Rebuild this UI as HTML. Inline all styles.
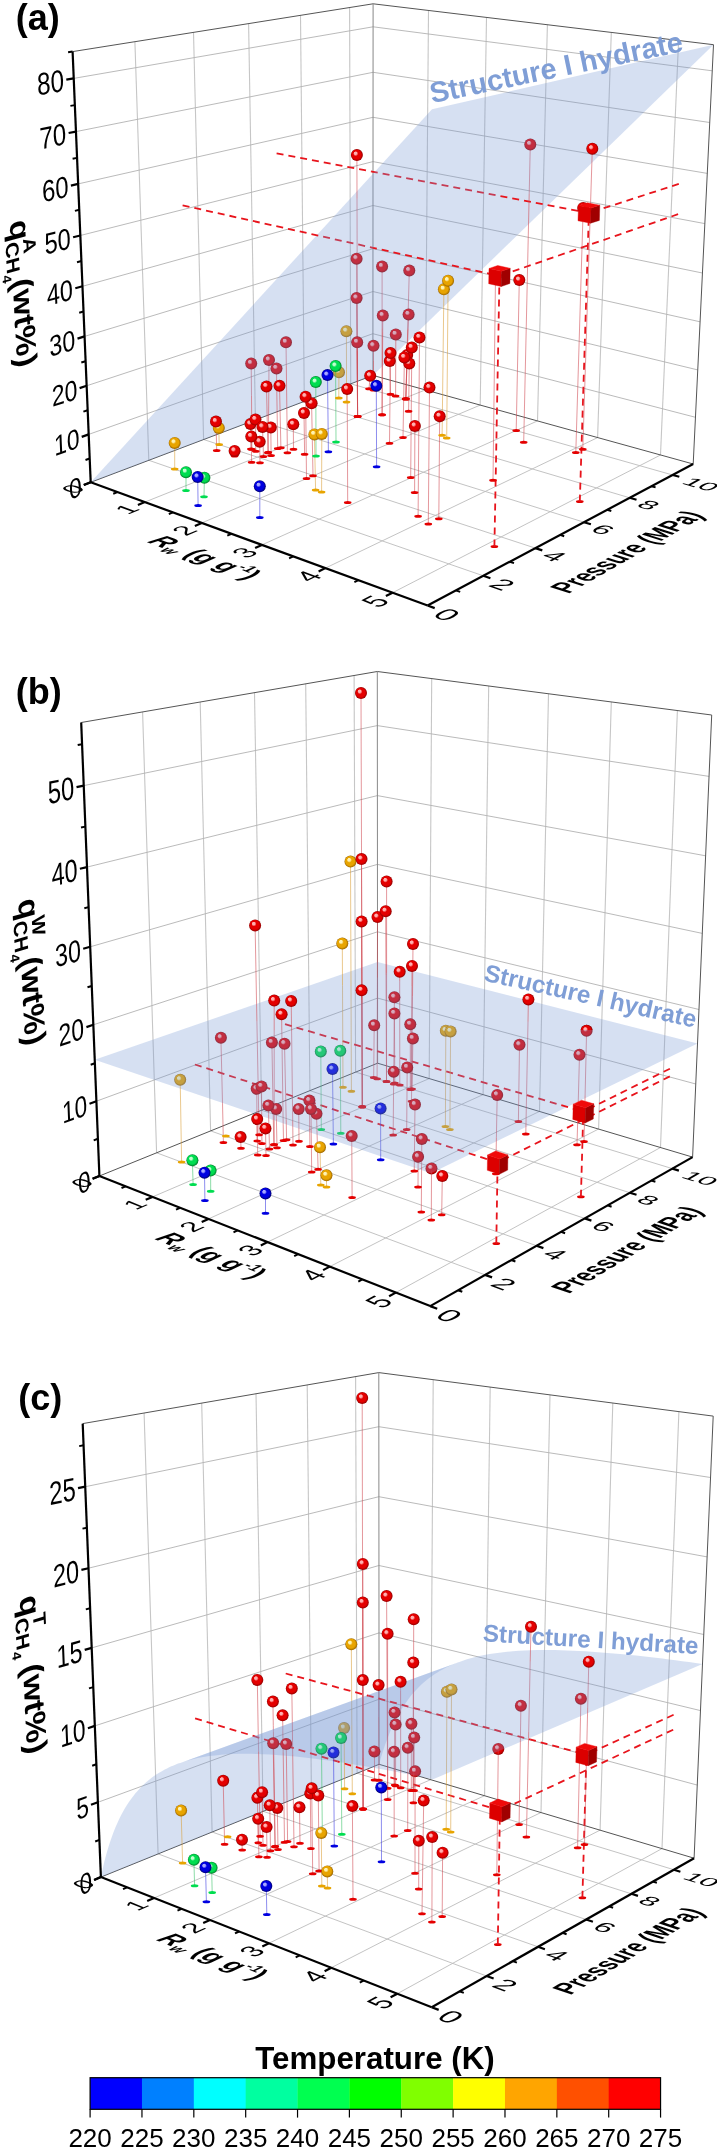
<!DOCTYPE html>
<html><head><meta charset="utf-8"><style>
html,body{margin:0;padding:0;background:#fff;}
body{width:717px;height:2150px;position:relative;overflow:hidden;font-family:"Liberation Sans",sans-serif;}
svg{will-change:transform;}
</style></head><body>
<svg width="717" height="2150" viewBox="0 0 717 2150" style="position:absolute;left:0;top:0" font-family="Liberation Sans, sans-serif">
<defs>
<radialGradient id="gR" cx="0.5" cy="0.5" r="0.5" fx="0.34" fy="0.3" gradientUnits="objectBoundingBox"><stop offset="0" stop-color="#ffb0b0"/><stop offset="0.22" stop-color="#ffb0b0" stop-opacity="1"/><stop offset="0.42" stop-color="#e40000"/><stop offset="0.75" stop-color="#e40000"/><stop offset="1" stop-color="#900000"/></radialGradient>
<radialGradient id="gY" cx="0.5" cy="0.5" r="0.5" fx="0.34" fy="0.3" gradientUnits="objectBoundingBox"><stop offset="0" stop-color="#fff2b0"/><stop offset="0.22" stop-color="#fff2b0" stop-opacity="1"/><stop offset="0.42" stop-color="#e8a400"/><stop offset="0.75" stop-color="#e8a400"/><stop offset="1" stop-color="#9a6400"/></radialGradient>
<radialGradient id="gG" cx="0.5" cy="0.5" r="0.5" fx="0.34" fy="0.3" gradientUnits="objectBoundingBox"><stop offset="0" stop-color="#c0ffd0"/><stop offset="0.22" stop-color="#c0ffd0" stop-opacity="1"/><stop offset="0.42" stop-color="#00dd50"/><stop offset="0.75" stop-color="#00dd50"/><stop offset="1" stop-color="#007a28"/></radialGradient>
<radialGradient id="gB" cx="0.5" cy="0.5" r="0.5" fx="0.34" fy="0.3" gradientUnits="objectBoundingBox"><stop offset="0" stop-color="#a8a8ff"/><stop offset="0.22" stop-color="#a8a8ff" stop-opacity="1"/><stop offset="0.42" stop-color="#0000e0"/><stop offset="0.75" stop-color="#0000e0"/><stop offset="1" stop-color="#00006a"/></radialGradient>
</defs>
<rect width="717" height="2150" fill="#fff"/>
<line x1="148.8" y1="460.3" x2="134.9" y2="41.7" stroke="#c6c6c6" stroke-width="1.1" />
<line x1="203.6" y1="439.5" x2="193.5" y2="32.3" stroke="#c6c6c6" stroke-width="1.1" />
<line x1="255.4" y1="419.9" x2="248.6" y2="23.6" stroke="#c6c6c6" stroke-width="1.1" />
<line x1="304.3" y1="401.4" x2="300.5" y2="15.3" stroke="#c6c6c6" stroke-width="1.1" />
<line x1="350.7" y1="383.8" x2="349.6" y2="7.5" stroke="#c6c6c6" stroke-width="1.1" />
<line x1="88.7" y1="434.4" x2="372.9" y2="333.7" stroke="#b2b2b2" stroke-width="0.9" />
<line x1="86.6" y1="385.8" x2="373.0" y2="291.5" stroke="#b2b2b2" stroke-width="0.9" />
<line x1="84.6" y1="336.4" x2="373.0" y2="248.7" stroke="#b2b2b2" stroke-width="0.9" />
<line x1="82.5" y1="286.3" x2="373.0" y2="205.5" stroke="#b2b2b2" stroke-width="0.9" />
<line x1="80.3" y1="235.5" x2="373.0" y2="161.6" stroke="#b2b2b2" stroke-width="0.9" />
<line x1="78.2" y1="183.9" x2="373.0" y2="117.3" stroke="#b2b2b2" stroke-width="0.9" />
<line x1="76.0" y1="131.6" x2="373.1" y2="72.3" stroke="#b2b2b2" stroke-width="0.9" />
<line x1="73.7" y1="78.4" x2="373.1" y2="26.8" stroke="#b2b2b2" stroke-width="0.9" />
<line x1="425.4" y1="389.9" x2="428.5" y2="10.5" stroke="#c6c6c6" stroke-width="1.1" />
<line x1="480.2" y1="405.1" x2="486.5" y2="17.4" stroke="#c6c6c6" stroke-width="1.1" />
<line x1="537.5" y1="420.9" x2="547.4" y2="24.7" stroke="#c6c6c6" stroke-width="1.1" />
<line x1="597.6" y1="437.6" x2="611.3" y2="32.4" stroke="#c6c6c6" stroke-width="1.1" />
<line x1="660.5" y1="455.0" x2="678.6" y2="40.5" stroke="#c6c6c6" stroke-width="1.1" />
<line x1="372.9" y1="333.7" x2="695.5" y2="417.3" stroke="#b2b2b2" stroke-width="0.9" />
<line x1="373.0" y1="291.5" x2="697.7" y2="369.9" stroke="#b2b2b2" stroke-width="0.9" />
<line x1="373.0" y1="248.7" x2="700.1" y2="321.8" stroke="#b2b2b2" stroke-width="0.9" />
<line x1="373.0" y1="205.5" x2="702.4" y2="273.0" stroke="#b2b2b2" stroke-width="0.9" />
<line x1="373.0" y1="161.6" x2="704.8" y2="223.6" stroke="#b2b2b2" stroke-width="0.9" />
<line x1="373.0" y1="117.3" x2="707.3" y2="173.4" stroke="#b2b2b2" stroke-width="0.9" />
<line x1="373.1" y1="72.3" x2="709.7" y2="122.5" stroke="#b2b2b2" stroke-width="0.9" />
<line x1="373.1" y1="26.8" x2="712.2" y2="70.8" stroke="#b2b2b2" stroke-width="0.9" />
<line x1="144.8" y1="502.1" x2="425.4" y2="389.9" stroke="#bcbcbc" stroke-width="0.9" />
<line x1="201.8" y1="522.9" x2="480.2" y2="405.1" stroke="#bcbcbc" stroke-width="0.9" />
<line x1="261.9" y1="544.9" x2="537.5" y2="420.9" stroke="#bcbcbc" stroke-width="0.9" />
<line x1="325.4" y1="568.1" x2="597.6" y2="437.6" stroke="#bcbcbc" stroke-width="0.9" />
<line x1="392.6" y1="592.7" x2="660.5" y2="455.0" stroke="#bcbcbc" stroke-width="0.9" />
<line x1="148.8" y1="460.3" x2="483.3" y2="575.8" stroke="#bcbcbc" stroke-width="0.9" />
<line x1="203.6" y1="439.5" x2="535.3" y2="548.1" stroke="#bcbcbc" stroke-width="0.9" />
<line x1="255.4" y1="419.9" x2="584.0" y2="522.2" stroke="#bcbcbc" stroke-width="0.9" />
<line x1="304.3" y1="401.4" x2="629.7" y2="497.8" stroke="#bcbcbc" stroke-width="0.9" />
<line x1="350.7" y1="383.8" x2="672.7" y2="475.0" stroke="#bcbcbc" stroke-width="0.9" />
<line x1="72.6" y1="51.6" x2="373.1" y2="3.8" stroke="#555" stroke-width="1" />
<line x1="373.1" y1="3.8" x2="713.5" y2="44.7" stroke="#555" stroke-width="1" />
<line x1="372.9" y1="375.4" x2="373.1" y2="3.8" stroke="#888" stroke-width="1" />
<line x1="693.2" y1="464.0" x2="713.5" y2="44.7" stroke="#555" stroke-width="1" />
<line x1="90.7" y1="482.3" x2="372.9" y2="375.4" stroke="#555" stroke-width="1" />
<line x1="372.9" y1="375.4" x2="693.2" y2="464.0" stroke="#555" stroke-width="1" />
<line x1="371.9" y1="171.6" x2="497.5" y2="195.6" stroke="#e8141c" stroke-width="1.8" stroke-dasharray="7,5" stroke-dashoffset="97.1"/>
<line x1="319.8" y1="235.9" x2="373.1" y2="247.8" stroke="#e8141c" stroke-width="1.8" stroke-dasharray="7,5" stroke-dashoffset="140.6"/>
<line x1="286.3" y1="365.3" x2="286.0" y2="342.3" stroke="#cd414b" stroke-width="1" stroke-opacity="0.55"/>
<line x1="251.5" y1="395.6" x2="251.2" y2="363.5" stroke="#cd414b" stroke-width="1" stroke-opacity="0.55"/>
<line x1="268.9" y1="379.2" x2="269.0" y2="360.0" stroke="#cd414b" stroke-width="1" stroke-opacity="0.55"/>
<line x1="276.6" y1="378.4" x2="276.5" y2="368.4" stroke="#cd414b" stroke-width="1" stroke-opacity="0.55"/>
<line x1="346.5" y1="369.5" x2="346.4" y2="331.2" stroke="#d89a30" stroke-width="1" stroke-opacity="0.55"/>
<line x1="357.4" y1="351.1" x2="357.0" y2="198.7" stroke="#cd414b" stroke-width="1" stroke-opacity="0.55"/>
<line x1="357.2" y1="350.8" x2="356.6" y2="258.7" stroke="#cd414b" stroke-width="1" stroke-opacity="0.55"/>
<line x1="357.0" y1="347.4" x2="356.6" y2="298.0" stroke="#cd414b" stroke-width="1" stroke-opacity="0.55"/>
<line x1="357.2" y1="348.5" x2="357.2" y2="342.3" stroke="#cd414b" stroke-width="1" stroke-opacity="0.55"/>
<line x1="373.5" y1="360.5" x2="373.5" y2="345.8" stroke="#cd414b" stroke-width="1" stroke-opacity="0.55"/>
<line x1="395.8" y1="339.5" x2="395.8" y2="334.4" stroke="#cd414b" stroke-width="1" stroke-opacity="0.55"/>
<line x1="338.9" y1="378.8" x2="339.0" y2="372.3" stroke="#d89a30" stroke-width="1" stroke-opacity="0.55"/>
<line x1="382.1" y1="328.3" x2="382.1" y2="266.5" stroke="#cd414b" stroke-width="1" stroke-opacity="0.55"/>
<line x1="382.7" y1="332.1" x2="382.8" y2="315.6" stroke="#cd414b" stroke-width="1" stroke-opacity="0.55"/>
<line x1="407.7" y1="329.5" x2="409.3" y2="270.6" stroke="#cd414b" stroke-width="1" stroke-opacity="0.55"/>
<line x1="408.1" y1="328.5" x2="408.6" y2="314.4" stroke="#cd414b" stroke-width="1" stroke-opacity="0.55"/>
<line x1="529.2" y1="194.1" x2="530.3" y2="144.5" stroke="#cd414b" stroke-width="1" stroke-opacity="0.55"/>
<circle cx="373.5" cy="345.8" r="6.0" fill="url(#gR)"/>
<circle cx="339.0" cy="372.3" r="6.0" fill="url(#gY)"/>
<circle cx="395.8" cy="334.4" r="6.0" fill="url(#gR)"/>
<circle cx="408.6" cy="314.4" r="6.0" fill="url(#gR)"/>
<circle cx="346.4" cy="331.2" r="6.0" fill="url(#gY)"/>
<circle cx="409.3" cy="270.6" r="6.0" fill="url(#gR)"/>
<circle cx="357.2" cy="342.3" r="6.0" fill="url(#gR)"/>
<circle cx="382.8" cy="315.6" r="6.0" fill="url(#gR)"/>
<circle cx="356.6" cy="298.0" r="6.0" fill="url(#gR)"/>
<circle cx="382.1" cy="266.5" r="6.0" fill="url(#gR)"/>
<circle cx="356.6" cy="258.7" r="6.0" fill="url(#gR)"/>
<circle cx="276.5" cy="368.4" r="6.0" fill="url(#gR)"/>
<circle cx="251.2" cy="363.5" r="6.0" fill="url(#gR)"/>
<circle cx="269.0" cy="360.0" r="6.0" fill="url(#gR)"/>
<circle cx="286.0" cy="342.3" r="6.0" fill="url(#gR)"/>
<circle cx="530.3" cy="144.5" r="6.0" fill="url(#gR)"/>
<polygon points="90.7,482.3 432.0,109.3 713.5,44.7 372.9,375.4" fill="rgb(119,152,212)" fill-opacity="0.3"/>
<text transform="matrix(0.9792,-0.2028,0.2028,0.9792,431.91,103.35)" font-size="29" font-weight="bold" fill="#7f9ed6" >Structure I hydrate</text>
<ellipse cx="579.8" cy="501.6" rx="3.8" ry="1.5" fill="#e00000"/>
<line x1="579.8" y1="501.6" x2="588.9" y2="213.0" stroke="#e8141c" stroke-width="1.8" stroke-dasharray="7,5" stroke-dashoffset="0.0"/>
<line x1="678.8" y1="183.9" x2="588.9" y2="213.0" stroke="#e8141c" stroke-width="1.8" stroke-dasharray="7,5" stroke-dashoffset="0.0"/>
<line x1="497.5" y1="195.6" x2="588.9" y2="213.0" stroke="#e8141c" stroke-width="1.8" stroke-dasharray="7,5" stroke-dashoffset="225.0"/>
<line x1="276.6" y1="153.4" x2="371.9" y2="171.6" stroke="#e8141c" stroke-width="1.8" stroke-dasharray="7,5" stroke-dashoffset="0.0"/>
<ellipse cx="494.4" cy="546.4" rx="3.8" ry="1.5" fill="#e00000"/>
<line x1="494.4" y1="546.4" x2="499.5" y2="276.0" stroke="#e8141c" stroke-width="1.8" stroke-dasharray="7,5" stroke-dashoffset="0.0"/>
<line x1="678.1" y1="214.2" x2="499.5" y2="276.0" stroke="#e8141c" stroke-width="1.8" stroke-dasharray="7,5" stroke-dashoffset="0.0"/>
<line x1="373.1" y1="247.8" x2="499.5" y2="276.0" stroke="#e8141c" stroke-width="1.8" stroke-dasharray="7,5" stroke-dashoffset="195.2"/>
<line x1="182.6" y1="205.3" x2="319.8" y2="235.9" stroke="#e8141c" stroke-width="1.8" stroke-dasharray="7,5" stroke-dashoffset="0.0"/>
<line x1="174.7" y1="469.0" x2="174.7" y2="442.9" stroke="#d89a30" stroke-width="1" stroke-opacity="0.55"/>
<line x1="186.0" y1="490.4" x2="186.0" y2="472.2" stroke="#30c060" stroke-width="1" stroke-opacity="0.55"/>
<line x1="204.0" y1="496.7" x2="204.4" y2="477.8" stroke="#30c060" stroke-width="1" stroke-opacity="0.55"/>
<line x1="198.1" y1="505.6" x2="197.7" y2="477.0" stroke="#3030e0" stroke-width="1" stroke-opacity="0.55"/>
<line x1="259.8" y1="517.6" x2="259.8" y2="486.2" stroke="#3030e0" stroke-width="1" stroke-opacity="0.55"/>
<line x1="219.2" y1="444.4" x2="218.8" y2="427.9" stroke="#d89a30" stroke-width="1" stroke-opacity="0.55"/>
<line x1="216.7" y1="450.5" x2="216.0" y2="421.6" stroke="#cd414b" stroke-width="1" stroke-opacity="0.55"/>
<line x1="234.6" y1="456.0" x2="234.6" y2="450.9" stroke="#cd414b" stroke-width="1" stroke-opacity="0.55"/>
<line x1="250.9" y1="449.1" x2="250.5" y2="424.0" stroke="#cd414b" stroke-width="1" stroke-opacity="0.55"/>
<line x1="255.8" y1="451.3" x2="255.5" y2="419.5" stroke="#cd414b" stroke-width="1" stroke-opacity="0.55"/>
<line x1="263.5" y1="456.5" x2="262.5" y2="426.9" stroke="#cd414b" stroke-width="1" stroke-opacity="0.55"/>
<line x1="271.1" y1="455.5" x2="270.8" y2="427.5" stroke="#cd414b" stroke-width="1" stroke-opacity="0.55"/>
<line x1="251.6" y1="462.3" x2="251.3" y2="436.5" stroke="#cd414b" stroke-width="1" stroke-opacity="0.55"/>
<line x1="260.0" y1="462.8" x2="259.7" y2="441.8" stroke="#cd414b" stroke-width="1" stroke-opacity="0.55"/>
<line x1="293.5" y1="449.3" x2="293.3" y2="424.2" stroke="#cd414b" stroke-width="1" stroke-opacity="0.55"/>
<line x1="287.4" y1="452.7" x2="286.3" y2="365.3" stroke="#cd414b" stroke-width="1" stroke-opacity="0.55"/>
<line x1="251.9" y1="449.2" x2="251.5" y2="395.6" stroke="#cd414b" stroke-width="1" stroke-opacity="0.55"/>
<line x1="268.3" y1="452.3" x2="268.9" y2="379.2" stroke="#cd414b" stroke-width="1" stroke-opacity="0.55"/>
<line x1="277.7" y1="448.5" x2="276.6" y2="378.4" stroke="#cd414b" stroke-width="1" stroke-opacity="0.55"/>
<line x1="267.9" y1="452.7" x2="266.5" y2="386.5" stroke="#cd414b" stroke-width="1" stroke-opacity="0.55"/>
<line x1="280.9" y1="447.8" x2="279.5" y2="385.8" stroke="#cd414b" stroke-width="1" stroke-opacity="0.55"/>
<line x1="306.5" y1="478.4" x2="305.6" y2="396.7" stroke="#cd414b" stroke-width="1" stroke-opacity="0.55"/>
<line x1="313.0" y1="475.8" x2="311.6" y2="403.2" stroke="#cd414b" stroke-width="1" stroke-opacity="0.55"/>
<line x1="304.6" y1="454.2" x2="304.0" y2="413.0" stroke="#cd414b" stroke-width="1" stroke-opacity="0.55"/>
<line x1="346.5" y1="401.9" x2="346.5" y2="369.5" stroke="#d89a30" stroke-width="1" stroke-opacity="0.55"/>
<line x1="357.6" y1="416.5" x2="357.4" y2="351.1" stroke="#cd414b" stroke-width="1" stroke-opacity="0.55"/>
<line x1="357.0" y1="198.7" x2="356.9" y2="155.1" stroke="#cd414b" stroke-width="1" stroke-opacity="0.55"/>
<line x1="357.6" y1="416.5" x2="357.2" y2="350.8" stroke="#cd414b" stroke-width="1" stroke-opacity="0.55"/>
<line x1="357.6" y1="416.5" x2="357.0" y2="347.4" stroke="#cd414b" stroke-width="1" stroke-opacity="0.55"/>
<line x1="357.6" y1="416.5" x2="357.2" y2="348.5" stroke="#cd414b" stroke-width="1" stroke-opacity="0.55"/>
<line x1="373.5" y1="390.0" x2="373.5" y2="360.5" stroke="#cd414b" stroke-width="1" stroke-opacity="0.55"/>
<line x1="395.6" y1="396.0" x2="395.8" y2="339.5" stroke="#cd414b" stroke-width="1" stroke-opacity="0.55"/>
<line x1="389.5" y1="443.3" x2="390.5" y2="353.1" stroke="#cd414b" stroke-width="1" stroke-opacity="0.55"/>
<line x1="390.5" y1="394.2" x2="389.8" y2="361.1" stroke="#cd414b" stroke-width="1" stroke-opacity="0.55"/>
<line x1="403.0" y1="437.4" x2="404.4" y2="357.4" stroke="#cd414b" stroke-width="1" stroke-opacity="0.55"/>
<line x1="405.9" y1="398.6" x2="407.2" y2="354.9" stroke="#cd414b" stroke-width="1" stroke-opacity="0.55"/>
<line x1="410.7" y1="477.5" x2="411.8" y2="347.5" stroke="#cd414b" stroke-width="1" stroke-opacity="0.55"/>
<line x1="408.6" y1="411.2" x2="409.3" y2="363.5" stroke="#cd414b" stroke-width="1" stroke-opacity="0.55"/>
<line x1="418.1" y1="516.2" x2="419.5" y2="337.4" stroke="#cd414b" stroke-width="1" stroke-opacity="0.55"/>
<line x1="428.3" y1="523.9" x2="429.5" y2="387.6" stroke="#cd414b" stroke-width="1" stroke-opacity="0.55"/>
<line x1="438.8" y1="518.8" x2="439.7" y2="416.2" stroke="#cd414b" stroke-width="1" stroke-opacity="0.55"/>
<line x1="414.6" y1="492.5" x2="414.9" y2="426.0" stroke="#cd414b" stroke-width="1" stroke-opacity="0.55"/>
<line x1="369.0" y1="388.8" x2="370.2" y2="375.8" stroke="#cd414b" stroke-width="1" stroke-opacity="0.55"/>
<line x1="347.7" y1="502.5" x2="347.2" y2="389.0" stroke="#cd414b" stroke-width="1" stroke-opacity="0.55"/>
<line x1="336.0" y1="442.0" x2="335.6" y2="366.0" stroke="#30c060" stroke-width="1" stroke-opacity="0.55"/>
<line x1="338.8" y1="398.1" x2="338.9" y2="378.8" stroke="#d89a30" stroke-width="1" stroke-opacity="0.55"/>
<line x1="328.4" y1="451.8" x2="327.5" y2="375.1" stroke="#3030e0" stroke-width="1" stroke-opacity="0.55"/>
<line x1="316.0" y1="456.0" x2="315.8" y2="382.1" stroke="#30c060" stroke-width="1" stroke-opacity="0.55"/>
<line x1="376.6" y1="466.7" x2="376.3" y2="385.8" stroke="#3030e0" stroke-width="1" stroke-opacity="0.55"/>
<line x1="315.6" y1="490.0" x2="314.4" y2="434.4" stroke="#d89a30" stroke-width="1" stroke-opacity="0.55"/>
<line x1="321.6" y1="492.0" x2="321.8" y2="433.9" stroke="#d89a30" stroke-width="1" stroke-opacity="0.55"/>
<line x1="382.1" y1="414.8" x2="382.1" y2="328.3" stroke="#cd414b" stroke-width="1" stroke-opacity="0.55"/>
<line x1="382.1" y1="414.8" x2="382.7" y2="332.1" stroke="#cd414b" stroke-width="1" stroke-opacity="0.55"/>
<line x1="405.8" y1="399.0" x2="407.7" y2="329.5" stroke="#cd414b" stroke-width="1" stroke-opacity="0.55"/>
<line x1="405.8" y1="399.0" x2="408.1" y2="328.5" stroke="#cd414b" stroke-width="1" stroke-opacity="0.55"/>
<line x1="446.7" y1="438.1" x2="448.1" y2="280.7" stroke="#d89a30" stroke-width="1" stroke-opacity="0.55"/>
<line x1="442.1" y1="435.3" x2="443.9" y2="289.3" stroke="#d89a30" stroke-width="1" stroke-opacity="0.55"/>
<line x1="523.7" y1="442.3" x2="529.2" y2="194.1" stroke="#cd414b" stroke-width="1" stroke-opacity="0.55"/>
<line x1="582.8" y1="449.3" x2="592.3" y2="148.8" stroke="#cd414b" stroke-width="1" stroke-opacity="0.55"/>
<line x1="575.8" y1="452.4" x2="583.2" y2="208.1" stroke="#cd414b" stroke-width="1" stroke-opacity="0.55"/>
<line x1="516.2" y1="430.6" x2="519.3" y2="280.1" stroke="#cd414b" stroke-width="1" stroke-opacity="0.55"/>
<line x1="493.0" y1="480.3" x2="495.5" y2="276.5" stroke="#cd414b" stroke-width="1" stroke-opacity="0.55"/>
<ellipse cx="174.7" cy="469.0" rx="3.8" ry="1.5" fill="#e8a400"/>
<ellipse cx="186.0" cy="490.4" rx="3.8" ry="1.5" fill="#00dd50"/>
<ellipse cx="204.0" cy="496.7" rx="3.8" ry="1.5" fill="#00dd50"/>
<ellipse cx="198.1" cy="505.6" rx="3.8" ry="1.5" fill="#0000e0"/>
<ellipse cx="259.8" cy="517.6" rx="3.8" ry="1.5" fill="#0000e0"/>
<ellipse cx="219.2" cy="444.4" rx="3.8" ry="1.5" fill="#e8a400"/>
<ellipse cx="216.7" cy="450.5" rx="3.8" ry="1.5" fill="#e40000"/>
<ellipse cx="234.6" cy="456.0" rx="3.8" ry="1.5" fill="#e40000"/>
<ellipse cx="250.9" cy="449.1" rx="3.8" ry="1.5" fill="#e40000"/>
<ellipse cx="255.8" cy="451.3" rx="3.8" ry="1.5" fill="#e40000"/>
<ellipse cx="263.5" cy="456.5" rx="3.8" ry="1.5" fill="#e40000"/>
<ellipse cx="271.1" cy="455.5" rx="3.8" ry="1.5" fill="#e40000"/>
<ellipse cx="251.6" cy="462.3" rx="3.8" ry="1.5" fill="#e40000"/>
<ellipse cx="260.0" cy="462.8" rx="3.8" ry="1.5" fill="#e40000"/>
<ellipse cx="293.5" cy="449.3" rx="3.8" ry="1.5" fill="#e40000"/>
<ellipse cx="287.4" cy="452.7" rx="3.8" ry="1.5" fill="#e40000"/>
<ellipse cx="251.9" cy="449.2" rx="3.8" ry="1.5" fill="#e40000"/>
<ellipse cx="268.3" cy="452.3" rx="3.8" ry="1.5" fill="#e40000"/>
<ellipse cx="277.7" cy="448.5" rx="3.8" ry="1.5" fill="#e40000"/>
<ellipse cx="267.9" cy="452.7" rx="3.8" ry="1.5" fill="#e40000"/>
<ellipse cx="280.9" cy="447.8" rx="3.8" ry="1.5" fill="#e40000"/>
<ellipse cx="306.5" cy="478.4" rx="3.8" ry="1.5" fill="#e40000"/>
<ellipse cx="313.0" cy="475.8" rx="3.8" ry="1.5" fill="#e40000"/>
<ellipse cx="304.6" cy="454.2" rx="3.8" ry="1.5" fill="#e40000"/>
<ellipse cx="346.5" cy="401.9" rx="3.8" ry="1.5" fill="#e8a400"/>
<ellipse cx="357.6" cy="416.5" rx="3.8" ry="1.5" fill="#e40000"/>
<ellipse cx="357.6" cy="416.5" rx="3.8" ry="1.5" fill="#e40000"/>
<ellipse cx="357.6" cy="416.5" rx="3.8" ry="1.5" fill="#e40000"/>
<ellipse cx="357.6" cy="416.5" rx="3.8" ry="1.5" fill="#e40000"/>
<ellipse cx="373.5" cy="390.0" rx="3.8" ry="1.5" fill="#e40000"/>
<ellipse cx="395.6" cy="396.0" rx="3.8" ry="1.5" fill="#e40000"/>
<ellipse cx="389.5" cy="443.3" rx="3.8" ry="1.5" fill="#e40000"/>
<ellipse cx="390.5" cy="394.2" rx="3.8" ry="1.5" fill="#e40000"/>
<ellipse cx="403.0" cy="437.4" rx="3.8" ry="1.5" fill="#e40000"/>
<ellipse cx="405.9" cy="398.6" rx="3.8" ry="1.5" fill="#e40000"/>
<ellipse cx="410.7" cy="477.5" rx="3.8" ry="1.5" fill="#e40000"/>
<ellipse cx="408.6" cy="411.2" rx="3.8" ry="1.5" fill="#e40000"/>
<ellipse cx="418.1" cy="516.2" rx="3.8" ry="1.5" fill="#e40000"/>
<ellipse cx="428.3" cy="523.9" rx="3.8" ry="1.5" fill="#e40000"/>
<ellipse cx="438.8" cy="518.8" rx="3.8" ry="1.5" fill="#e40000"/>
<ellipse cx="414.6" cy="492.5" rx="3.8" ry="1.5" fill="#e40000"/>
<ellipse cx="369.0" cy="388.8" rx="3.8" ry="1.5" fill="#e40000"/>
<ellipse cx="347.7" cy="502.5" rx="3.8" ry="1.5" fill="#e40000"/>
<ellipse cx="336.0" cy="442.0" rx="3.8" ry="1.5" fill="#00dd50"/>
<ellipse cx="338.8" cy="398.1" rx="3.8" ry="1.5" fill="#e8a400"/>
<ellipse cx="328.4" cy="451.8" rx="3.8" ry="1.5" fill="#0000e0"/>
<ellipse cx="316.0" cy="456.0" rx="3.8" ry="1.5" fill="#00dd50"/>
<ellipse cx="376.6" cy="466.7" rx="3.8" ry="1.5" fill="#0000e0"/>
<ellipse cx="315.6" cy="490.0" rx="3.8" ry="1.5" fill="#e8a400"/>
<ellipse cx="321.6" cy="492.0" rx="3.8" ry="1.5" fill="#e8a400"/>
<ellipse cx="382.1" cy="414.8" rx="3.8" ry="1.5" fill="#e40000"/>
<ellipse cx="382.1" cy="414.8" rx="3.8" ry="1.5" fill="#e40000"/>
<ellipse cx="405.8" cy="399.0" rx="3.8" ry="1.5" fill="#e40000"/>
<ellipse cx="405.8" cy="399.0" rx="3.8" ry="1.5" fill="#e40000"/>
<ellipse cx="446.7" cy="438.1" rx="3.8" ry="1.5" fill="#e8a400"/>
<ellipse cx="442.1" cy="435.3" rx="3.8" ry="1.5" fill="#e8a400"/>
<ellipse cx="523.7" cy="442.3" rx="3.8" ry="1.5" fill="#e40000"/>
<ellipse cx="582.8" cy="449.3" rx="3.8" ry="1.5" fill="#e40000"/>
<ellipse cx="575.8" cy="452.4" rx="3.8" ry="1.5" fill="#e40000"/>
<ellipse cx="516.2" cy="430.6" rx="3.8" ry="1.5" fill="#e40000"/>
<ellipse cx="493.0" cy="480.3" rx="3.8" ry="1.5" fill="#e40000"/>
<circle cx="370.2" cy="375.8" r="6.0" fill="url(#gR)"/>
<circle cx="389.8" cy="361.1" r="6.0" fill="url(#gR)"/>
<circle cx="407.2" cy="354.9" r="6.0" fill="url(#gR)"/>
<circle cx="409.3" cy="363.5" r="6.0" fill="url(#gR)"/>
<circle cx="356.9" cy="155.1" r="6.0" fill="url(#gR)"/>
<circle cx="404.4" cy="357.4" r="6.0" fill="url(#gR)"/>
<circle cx="519.3" cy="280.1" r="6.0" fill="url(#gR)"/>
<circle cx="218.8" cy="427.9" r="6.0" fill="url(#gY)"/>
<circle cx="335.6" cy="366.0" r="6.0" fill="url(#gG)"/>
<circle cx="443.9" cy="289.3" r="6.0" fill="url(#gY)"/>
<circle cx="250.5" cy="424.0" r="6.0" fill="url(#gR)"/>
<circle cx="293.3" cy="424.2" r="6.0" fill="url(#gR)"/>
<circle cx="390.5" cy="353.1" r="6.0" fill="url(#gR)"/>
<circle cx="216.0" cy="421.6" r="6.0" fill="url(#gR)"/>
<circle cx="448.1" cy="280.7" r="6.0" fill="url(#gY)"/>
<circle cx="279.5" cy="385.8" r="6.0" fill="url(#gR)"/>
<circle cx="255.5" cy="419.5" r="6.0" fill="url(#gR)"/>
<circle cx="234.6" cy="450.9" r="6.0" fill="url(#gR)"/>
<circle cx="304.0" cy="413.0" r="6.0" fill="url(#gR)"/>
<circle cx="270.8" cy="427.5" r="6.0" fill="url(#gR)"/>
<circle cx="262.5" cy="426.9" r="6.0" fill="url(#gR)"/>
<circle cx="327.5" cy="375.1" r="6.0" fill="url(#gB)"/>
<circle cx="266.5" cy="386.5" r="6.0" fill="url(#gR)"/>
<circle cx="315.8" cy="382.1" r="6.0" fill="url(#gG)"/>
<circle cx="259.7" cy="441.8" r="6.0" fill="url(#gR)"/>
<circle cx="251.3" cy="436.5" r="6.0" fill="url(#gR)"/>
<circle cx="174.7" cy="442.9" r="6.0" fill="url(#gY)"/>
<circle cx="376.3" cy="385.8" r="6.0" fill="url(#gB)"/>
<circle cx="583.2" cy="208.1" r="6.0" fill="url(#gR)"/>
<circle cx="592.3" cy="148.8" r="6.0" fill="url(#gR)"/>
<circle cx="311.6" cy="403.2" r="6.0" fill="url(#gR)"/>
<circle cx="305.6" cy="396.7" r="6.0" fill="url(#gR)"/>
<circle cx="411.8" cy="347.5" r="6.0" fill="url(#gR)"/>
<circle cx="186.0" cy="472.2" r="6.0" fill="url(#gG)"/>
<circle cx="314.4" cy="434.4" r="6.0" fill="url(#gY)"/>
<circle cx="321.8" cy="433.9" r="6.0" fill="url(#gY)"/>
<circle cx="204.4" cy="477.8" r="6.0" fill="url(#gG)"/>
<circle cx="414.9" cy="426.0" r="6.0" fill="url(#gR)"/>
<circle cx="495.5" cy="276.5" r="6.0" fill="url(#gR)"/>
<circle cx="197.7" cy="477.0" r="6.0" fill="url(#gB)"/>
<circle cx="347.2" cy="389.0" r="6.0" fill="url(#gR)"/>
<circle cx="259.8" cy="486.2" r="6.0" fill="url(#gB)"/>
<circle cx="439.7" cy="416.2" r="6.0" fill="url(#gR)"/>
<circle cx="419.5" cy="337.4" r="6.0" fill="url(#gR)"/>
<circle cx="429.5" cy="387.6" r="6.0" fill="url(#gR)"/>
<polygon points="488.7,283.7 501.2,286.5 501.5,271.3 489.0,268.5" fill="#dc0000" stroke="#dc0000" stroke-width="0.4" stroke-linejoin="round"/><polygon points="501.2,286.5 509.9,283.5 510.2,268.3 501.5,271.3" fill="#a00000" stroke="#a00000" stroke-width="0.4" stroke-linejoin="round"/><polygon points="489.0,268.5 501.5,271.3 510.2,268.3 497.7,265.5" fill="#f00a0a" stroke="#f00a0a" stroke-width="0.4" stroke-linejoin="round"/>
<polygon points="578.0,220.8 590.6,223.2 591.1,208.0 578.5,205.6" fill="#dc0000" stroke="#dc0000" stroke-width="0.4" stroke-linejoin="round"/><polygon points="590.6,223.2 599.4,220.4 599.8,205.2 591.1,208.0" fill="#a00000" stroke="#a00000" stroke-width="0.4" stroke-linejoin="round"/><polygon points="578.5,205.6 591.1,208.0 599.8,205.2 587.3,202.8" fill="#f00a0a" stroke="#f00a0a" stroke-width="0.4" stroke-linejoin="round"/>
<line x1="90.7" y1="482.3" x2="72.6" y2="51.6" stroke="#000" stroke-width="2.2" />
<line x1="90.7" y1="482.3" x2="427.6" y2="605.5" stroke="#000" stroke-width="2.2" />
<line x1="427.6" y1="605.5" x2="693.2" y2="464.0" stroke="#000" stroke-width="2.2" />
<line x1="90.7" y1="482.3" x2="83.8" y2="485.0" stroke="#000" stroke-width="2.2" />
<line x1="88.7" y1="434.4" x2="81.7" y2="436.9" stroke="#000" stroke-width="2.2" />
<line x1="86.6" y1="385.8" x2="79.6" y2="388.1" stroke="#000" stroke-width="2.2" />
<line x1="84.6" y1="336.4" x2="77.5" y2="338.6" stroke="#000" stroke-width="2.2" />
<line x1="82.5" y1="286.3" x2="75.3" y2="288.3" stroke="#000" stroke-width="2.2" />
<line x1="80.3" y1="235.5" x2="73.1" y2="237.3" stroke="#000" stroke-width="2.2" />
<line x1="78.2" y1="183.9" x2="70.9" y2="185.6" stroke="#000" stroke-width="2.2" />
<line x1="76.0" y1="131.6" x2="68.6" y2="133.0" stroke="#000" stroke-width="2.2" />
<line x1="73.7" y1="78.4" x2="66.3" y2="79.7" stroke="#000" stroke-width="2.2" />
<line x1="89.7" y1="458.5" x2="85.5" y2="460.0" stroke="#000" stroke-width="1.9800000000000002" />
<line x1="87.7" y1="410.2" x2="83.4" y2="411.6" stroke="#000" stroke-width="1.9800000000000002" />
<line x1="85.6" y1="361.2" x2="81.3" y2="362.5" stroke="#000" stroke-width="1.9800000000000002" />
<line x1="83.5" y1="311.5" x2="79.2" y2="312.7" stroke="#000" stroke-width="1.9800000000000002" />
<line x1="81.4" y1="261.0" x2="77.0" y2="262.2" stroke="#000" stroke-width="1.9800000000000002" />
<line x1="79.3" y1="209.8" x2="74.9" y2="210.9" stroke="#000" stroke-width="1.9800000000000002" />
<line x1="77.1" y1="157.9" x2="72.6" y2="158.8" stroke="#000" stroke-width="1.9800000000000002" />
<line x1="74.9" y1="105.1" x2="70.4" y2="105.9" stroke="#000" stroke-width="1.9800000000000002" />
<line x1="72.6" y1="51.6" x2="68.1" y2="52.3" stroke="#000" stroke-width="1.9800000000000002" />
<line x1="90.7" y1="482.3" x2="83.8" y2="485.0" stroke="#000" stroke-width="2.2" />
<line x1="144.8" y1="502.1" x2="137.9" y2="504.9" stroke="#000" stroke-width="2.2" />
<line x1="201.8" y1="522.9" x2="194.9" y2="525.9" stroke="#000" stroke-width="2.2" />
<line x1="261.9" y1="544.9" x2="255.1" y2="548.0" stroke="#000" stroke-width="2.2" />
<line x1="325.4" y1="568.1" x2="318.6" y2="571.4" stroke="#000" stroke-width="2.2" />
<line x1="392.6" y1="592.7" x2="385.9" y2="596.1" stroke="#000" stroke-width="2.2" />
<line x1="117.4" y1="492.1" x2="113.2" y2="493.7" stroke="#000" stroke-width="1.9800000000000002" />
<line x1="172.9" y1="512.4" x2="168.8" y2="514.1" stroke="#000" stroke-width="1.9800000000000002" />
<line x1="231.5" y1="533.8" x2="227.3" y2="535.6" stroke="#000" stroke-width="1.9800000000000002" />
<line x1="293.2" y1="556.4" x2="289.1" y2="558.3" stroke="#000" stroke-width="1.9800000000000002" />
<line x1="358.5" y1="580.2" x2="354.4" y2="582.2" stroke="#000" stroke-width="1.9800000000000002" />
<line x1="427.6" y1="605.5" x2="434.7" y2="608.1" stroke="#000" stroke-width="2.2" />
<line x1="483.3" y1="575.8" x2="490.4" y2="578.2" stroke="#000" stroke-width="2.2" />
<line x1="535.3" y1="548.1" x2="542.3" y2="550.4" stroke="#000" stroke-width="2.2" />
<line x1="584.0" y1="522.2" x2="590.9" y2="524.3" stroke="#000" stroke-width="2.2" />
<line x1="629.7" y1="497.8" x2="636.5" y2="499.8" stroke="#000" stroke-width="2.2" />
<line x1="672.7" y1="475.0" x2="679.3" y2="476.8" stroke="#000" stroke-width="2.2" />
<line x1="455.9" y1="590.4" x2="460.2" y2="591.9" stroke="#000" stroke-width="1.9800000000000002" />
<line x1="509.8" y1="561.7" x2="514.0" y2="563.1" stroke="#000" stroke-width="1.9800000000000002" />
<line x1="560.1" y1="534.9" x2="564.2" y2="536.2" stroke="#000" stroke-width="1.9800000000000002" />
<line x1="607.2" y1="509.8" x2="611.3" y2="511.0" stroke="#000" stroke-width="1.9800000000000002" />
<line x1="651.5" y1="486.2" x2="655.6" y2="487.4" stroke="#000" stroke-width="1.9800000000000002" />
<text transform="matrix(1.1313,-0.4288,0.0601,1.3817,69.42,500.10)" font-size="20" fill="#000" >0</text>
<text transform="matrix(1.1407,-0.4042,0.0610,1.4018,54.45,456.35)" font-size="20" fill="#000" >10</text>
<text transform="matrix(1.1503,-0.3788,0.0619,1.4224,52.13,407.09)" font-size="20" fill="#000" >20</text>
<text transform="matrix(1.1600,-0.3526,0.0628,1.4433,49.77,357.09)" font-size="20" fill="#000" >30</text>
<text transform="matrix(1.1699,-0.3257,0.0637,1.4648,47.37,306.34)" font-size="20" fill="#000" >40</text>
<text transform="matrix(1.1799,-0.2978,0.0647,1.4867,44.94,254.83)" font-size="20" fill="#000" >50</text>
<text transform="matrix(1.1901,-0.2691,0.0657,1.5092,42.47,202.53)" font-size="20" fill="#000" >60</text>
<text transform="matrix(1.2005,-0.2395,0.0667,1.5321,39.96,149.43)" font-size="20" fill="#000" >70</text>
<text transform="matrix(1.2111,-0.2089,0.0677,1.5556,37.42,95.52)" font-size="20" fill="#000" >80</text>
<text transform="matrix(1.2071,-0.4575,1.0449,0.3884,73.62,494.23)" font-size="20" fill="#000" >0</text>
<text transform="matrix(1.2049,-0.4820,1.1002,0.4090,127.81,514.78)" font-size="20" fill="#000" >1</text>
<text transform="matrix(1.2007,-0.5085,1.1601,0.4313,185.78,536.19)" font-size="20" fill="#000" >2</text>
<text transform="matrix(1.1943,-0.5373,1.2250,0.4554,246.47,558.81)" font-size="20" fill="#000" >3</text>
<text transform="matrix(1.1852,-0.5685,1.2955,0.4816,310.63,582.81)" font-size="20" fill="#000" >4</text>
<text transform="matrix(1.1729,-0.6026,1.3723,0.5102,378.32,608.24)" font-size="20" fill="#000" >5</text>
<text transform="matrix(1.4345,0.5255,-1.1399,0.6208,430.95,615.94)" font-size="20" fill="#000" >0</text>
<text transform="matrix(1.4166,0.4902,-1.0627,0.5788,487.06,585.63)" font-size="20" fill="#000" >2</text>
<text transform="matrix(1.3978,0.4584,-0.9931,0.5409,539.78,557.27)" font-size="20" fill="#000" >4</text>
<text transform="matrix(1.3785,0.4296,-0.9302,0.5066,588.73,530.71)" font-size="20" fill="#000" >6</text>
<text transform="matrix(1.3588,0.4035,-0.8730,0.4754,634.88,505.90)" font-size="20" fill="#000" >8</text>
<text transform="matrix(1.3495,0.3826,-0.8178,0.4506,680.36,483.21)" font-size="20" fill="#000" >10</text>
<text transform="matrix(0.0833,1.6502,-1.4238,0.3915,9.80,222.44)" fill="#000" ><tspan x="0.00" y="0.00" font-size="20.00" font-weight="bold">q</tspan><tspan x="12.22" y="-8.60" font-size="12.60" font-weight="bold">A</tspan><tspan x="12.22" y="3.80" font-size="13.00" font-weight="bold">CH</tspan><tspan x="30.99" y="7.00" font-size="8.80" font-weight="bold">4</tspan><tspan x="35.48" y="0.00" font-size="20.00" font-weight="bold">(wt%)</tspan></text>
<text transform="matrix(1.2103,0.4610,-1.2287,0.5440,146.52,541.95)" fill="#000" ><tspan x="0.00" y="0.00" font-size="20.00" font-weight="bold" font-style="italic">R</tspan><tspan x="14.44" y="4.00" font-size="12.00" font-weight="bold" font-style="italic">w</tspan><tspan x="23.78" y="0.00" font-size="20.00" font-weight="bold"> (g g</tspan><tspan x="65.98" y="-8.00" font-size="12.00" font-weight="bold">-1</tspan><tspan x="76.65" y="0.00" font-size="20.00" font-weight="bold">)</tspan></text>
<text transform="matrix(0.9391,-0.5360,1.4323,0.4543,568.31,593.93)" fill="#000" ><tspan x="0.00" y="0.00" font-size="20.00" font-weight="bold">Pressure (MPa)</tspan></text>
<line x1="156.6" y1="1152.8" x2="142.6" y2="711.9" stroke="#c6c6c6" stroke-width="1.1" />
<line x1="210.6" y1="1130.9" x2="200.2" y2="702.0" stroke="#c6c6c6" stroke-width="1.1" />
<line x1="261.6" y1="1110.2" x2="254.5" y2="692.6" stroke="#c6c6c6" stroke-width="1.1" />
<line x1="309.9" y1="1090.7" x2="305.7" y2="683.8" stroke="#c6c6c6" stroke-width="1.1" />
<line x1="355.6" y1="1072.1" x2="354.1" y2="675.5" stroke="#c6c6c6" stroke-width="1.1" />
<line x1="96.4" y1="1101.2" x2="377.6" y2="998.1" stroke="#b2b2b2" stroke-width="0.9" />
<line x1="93.3" y1="1024.8" x2="377.5" y2="931.8" stroke="#b2b2b2" stroke-width="0.9" />
<line x1="90.2" y1="946.8" x2="377.4" y2="864.4" stroke="#b2b2b2" stroke-width="0.9" />
<line x1="87.0" y1="867.1" x2="377.4" y2="795.6" stroke="#b2b2b2" stroke-width="0.9" />
<line x1="83.8" y1="785.6" x2="377.3" y2="725.6" stroke="#b2b2b2" stroke-width="0.9" />
<line x1="429.2" y1="1078.6" x2="431.7" y2="678.6" stroke="#c6c6c6" stroke-width="1.1" />
<line x1="483.1" y1="1094.6" x2="488.7" y2="686.0" stroke="#c6c6c6" stroke-width="1.1" />
<line x1="539.5" y1="1111.4" x2="548.5" y2="693.8" stroke="#c6c6c6" stroke-width="1.1" />
<line x1="598.6" y1="1129.0" x2="611.3" y2="701.9" stroke="#c6c6c6" stroke-width="1.1" />
<line x1="660.5" y1="1147.5" x2="677.4" y2="710.5" stroke="#c6c6c6" stroke-width="1.1" />
<line x1="377.6" y1="998.1" x2="695.8" y2="1084.0" stroke="#b2b2b2" stroke-width="0.9" />
<line x1="377.5" y1="931.8" x2="699.0" y2="1009.5" stroke="#b2b2b2" stroke-width="0.9" />
<line x1="377.4" y1="864.4" x2="702.3" y2="933.4" stroke="#b2b2b2" stroke-width="0.9" />
<line x1="377.4" y1="795.6" x2="705.6" y2="855.8" stroke="#b2b2b2" stroke-width="0.9" />
<line x1="377.3" y1="725.6" x2="709.1" y2="776.4" stroke="#b2b2b2" stroke-width="0.9" />
<line x1="152.5" y1="1196.9" x2="429.2" y2="1078.6" stroke="#bcbcbc" stroke-width="0.9" />
<line x1="208.5" y1="1218.9" x2="483.1" y2="1094.6" stroke="#bcbcbc" stroke-width="0.9" />
<line x1="267.5" y1="1242.1" x2="539.5" y2="1111.4" stroke="#bcbcbc" stroke-width="0.9" />
<line x1="329.8" y1="1266.6" x2="598.6" y2="1129.0" stroke="#bcbcbc" stroke-width="0.9" />
<line x1="395.8" y1="1292.6" x2="660.5" y2="1147.5" stroke="#bcbcbc" stroke-width="0.9" />
<line x1="156.6" y1="1152.8" x2="485.1" y2="1274.9" stroke="#bcbcbc" stroke-width="0.9" />
<line x1="210.6" y1="1130.9" x2="536.5" y2="1245.7" stroke="#bcbcbc" stroke-width="0.9" />
<line x1="261.6" y1="1110.2" x2="584.7" y2="1218.4" stroke="#bcbcbc" stroke-width="0.9" />
<line x1="309.9" y1="1090.7" x2="629.8" y2="1192.7" stroke="#bcbcbc" stroke-width="0.9" />
<line x1="355.6" y1="1072.1" x2="672.3" y2="1168.6" stroke="#bcbcbc" stroke-width="0.9" />
<line x1="81.2" y1="722.5" x2="377.3" y2="671.5" stroke="#555" stroke-width="1" />
<line x1="377.3" y1="671.5" x2="711.7" y2="715.0" stroke="#555" stroke-width="1" />
<line x1="377.6" y1="1063.2" x2="377.3" y2="671.5" stroke="#888" stroke-width="1" />
<line x1="692.6" y1="1157.1" x2="711.7" y2="715.0" stroke="#555" stroke-width="1" />
<line x1="99.4" y1="1176.0" x2="377.6" y2="1063.2" stroke="#555" stroke-width="1" />
<line x1="377.6" y1="1063.2" x2="692.6" y2="1157.1" stroke="#555" stroke-width="1" />
<line x1="285.0" y1="1024.2" x2="560.9" y2="1105.1" stroke="#e8141c" stroke-width="1.8" stroke-dasharray="7,5" stroke-dashoffset="0.0"/>
<line x1="194.9" y1="1064.5" x2="463.5" y2="1151.5" stroke="#e8141c" stroke-width="1.8" stroke-dasharray="7,5" stroke-dashoffset="0.0"/>
<line x1="180.3" y1="1086.6" x2="180.2" y2="1079.8" stroke="#d89a30" stroke-width="1" stroke-opacity="0.55"/>
<line x1="222.5" y1="1103.2" x2="220.9" y2="1037.8" stroke="#cd414b" stroke-width="1" stroke-opacity="0.55"/>
<line x1="273.3" y1="1119.3" x2="271.9" y2="1042.5" stroke="#cd414b" stroke-width="1" stroke-opacity="0.55"/>
<line x1="286.2" y1="1119.7" x2="284.5" y2="1043.7" stroke="#cd414b" stroke-width="1" stroke-opacity="0.55"/>
<line x1="321.3" y1="1129.5" x2="320.8" y2="1051.5" stroke="#30c060" stroke-width="1" stroke-opacity="0.55"/>
<line x1="256.9" y1="1110.6" x2="256.7" y2="1088.8" stroke="#cd414b" stroke-width="1" stroke-opacity="0.55"/>
<line x1="261.7" y1="1112.5" x2="261.5" y2="1086.4" stroke="#cd414b" stroke-width="1" stroke-opacity="0.55"/>
<line x1="268.6" y1="1114.5" x2="268.4" y2="1105.4" stroke="#cd414b" stroke-width="1" stroke-opacity="0.55"/>
<line x1="276.4" y1="1118.6" x2="276.2" y2="1108.9" stroke="#cd414b" stroke-width="1" stroke-opacity="0.55"/>
<line x1="298.9" y1="1127.8" x2="298.7" y2="1108.9" stroke="#cd414b" stroke-width="1" stroke-opacity="0.55"/>
<line x1="309.7" y1="1127.3" x2="309.4" y2="1100.6" stroke="#cd414b" stroke-width="1" stroke-opacity="0.55"/>
<line x1="311.2" y1="1129.9" x2="311.0" y2="1108.9" stroke="#cd414b" stroke-width="1" stroke-opacity="0.55"/>
<line x1="317.1" y1="1134.5" x2="316.5" y2="1113.7" stroke="#cd414b" stroke-width="1" stroke-opacity="0.55"/>
<line x1="340.8" y1="1133.3" x2="340.3" y2="1050.8" stroke="#30c060" stroke-width="1" stroke-opacity="0.55"/>
<line x1="333.3" y1="1137.7" x2="332.5" y2="1069.1" stroke="#3030e0" stroke-width="1" stroke-opacity="0.55"/>
<line x1="373.7" y1="1077.4" x2="374.2" y2="1025.2" stroke="#cd414b" stroke-width="1" stroke-opacity="0.55"/>
<line x1="410.3" y1="1089.5" x2="410.3" y2="1024.3" stroke="#cd414b" stroke-width="1" stroke-opacity="0.55"/>
<line x1="412.1" y1="1089.0" x2="412.9" y2="1038.5" stroke="#cd414b" stroke-width="1" stroke-opacity="0.55"/>
<line x1="393.2" y1="1135.0" x2="393.7" y2="1071.7" stroke="#cd414b" stroke-width="1" stroke-opacity="0.55"/>
<line x1="406.7" y1="1129.5" x2="407.2" y2="1067.4" stroke="#cd414b" stroke-width="1" stroke-opacity="0.55"/>
<line x1="414.3" y1="1165.6" x2="415.0" y2="1104.6" stroke="#cd414b" stroke-width="1" stroke-opacity="0.55"/>
<line x1="380.7" y1="1153.3" x2="380.6" y2="1108.4" stroke="#3030e0" stroke-width="1" stroke-opacity="0.55"/>
<line x1="351.8" y1="1146.2" x2="351.7" y2="1136.0" stroke="#cd414b" stroke-width="1" stroke-opacity="0.55"/>
<line x1="421.6" y1="1166.4" x2="421.8" y2="1139.0" stroke="#cd414b" stroke-width="1" stroke-opacity="0.55"/>
<line x1="445.4" y1="1126.6" x2="445.8" y2="1030.7" stroke="#d89a30" stroke-width="1" stroke-opacity="0.55"/>
<line x1="449.9" y1="1129.5" x2="450.6" y2="1031.4" stroke="#d89a30" stroke-width="1" stroke-opacity="0.55"/>
<line x1="418.1" y1="1168.1" x2="418.1" y2="1156.8" stroke="#cd414b" stroke-width="1" stroke-opacity="0.55"/>
<line x1="431.5" y1="1170.6" x2="431.5" y2="1168.4" stroke="#cd414b" stroke-width="1" stroke-opacity="0.55"/>
<line x1="258.6" y1="1108.6" x2="256.9" y2="1021.4" stroke="#cd414b" stroke-width="1" stroke-opacity="0.55"/>
<line x1="274.2" y1="1120.5" x2="274.2" y2="1030.6" stroke="#cd414b" stroke-width="1" stroke-opacity="0.55"/>
<line x1="292.7" y1="1120.9" x2="291.6" y2="1031.0" stroke="#cd414b" stroke-width="1" stroke-opacity="0.55"/>
<line x1="283.2" y1="1124.6" x2="281.8" y2="1030.0" stroke="#cd414b" stroke-width="1" stroke-opacity="0.55"/>
<line x1="343.0" y1="1087.2" x2="342.5" y2="985.4" stroke="#d89a30" stroke-width="1" stroke-opacity="0.55"/>
<line x1="362.3" y1="1106.7" x2="361.9" y2="998.6" stroke="#cd414b" stroke-width="1" stroke-opacity="0.55"/>
<line x1="377.1" y1="1078.7" x2="377.4" y2="977.7" stroke="#cd414b" stroke-width="1" stroke-opacity="0.55"/>
<line x1="386.5" y1="1081.6" x2="386.0" y2="975.1" stroke="#cd414b" stroke-width="1" stroke-opacity="0.55"/>
<line x1="386.5" y1="1081.6" x2="386.6" y2="973.2" stroke="#cd414b" stroke-width="1" stroke-opacity="0.55"/>
<line x1="411.5" y1="1101.2" x2="412.5" y2="996.4" stroke="#cd414b" stroke-width="1" stroke-opacity="0.55"/>
<line x1="411.1" y1="1089.0" x2="411.9" y2="986.4" stroke="#cd414b" stroke-width="1" stroke-opacity="0.55"/>
<line x1="399.8" y1="1085.0" x2="399.7" y2="981.2" stroke="#cd414b" stroke-width="1" stroke-opacity="0.55"/>
<line x1="362.3" y1="1106.7" x2="361.7" y2="1000.0" stroke="#cd414b" stroke-width="1" stroke-opacity="0.55"/>
<line x1="393.7" y1="1084.0" x2="394.4" y2="997.2" stroke="#cd414b" stroke-width="1" stroke-opacity="0.55"/>
<line x1="394.8" y1="1083.1" x2="394.4" y2="1013.4" stroke="#cd414b" stroke-width="1" stroke-opacity="0.55"/>
<line x1="362.3" y1="1106.7" x2="362.0" y2="1003.3" stroke="#cd414b" stroke-width="1" stroke-opacity="0.55"/>
<line x1="362.3" y1="1106.7" x2="361.9" y2="993.2" stroke="#cd414b" stroke-width="1" stroke-opacity="0.55"/>
<line x1="351.4" y1="1091.2" x2="351.0" y2="986.0" stroke="#d89a30" stroke-width="1" stroke-opacity="0.55"/>
<line x1="526.0" y1="1122.8" x2="528.0" y2="1021.8" stroke="#cd414b" stroke-width="1" stroke-opacity="0.55"/>
<line x1="518.4" y1="1121.6" x2="519.5" y2="1044.8" stroke="#cd414b" stroke-width="1" stroke-opacity="0.55"/>
<line x1="585.1" y1="1095.3" x2="586.6" y2="1030.8" stroke="#cd414b" stroke-width="1" stroke-opacity="0.55"/>
<line x1="578.3" y1="1099.7" x2="579.5" y2="1054.7" stroke="#cd414b" stroke-width="1" stroke-opacity="0.55"/>
<line x1="496.4" y1="1137.6" x2="497.2" y2="1094.9" stroke="#cd414b" stroke-width="1" stroke-opacity="0.55"/>
<ellipse cx="321.3" cy="1129.5" rx="3.8" ry="1.5" fill="#00dd50"/>
<ellipse cx="340.8" cy="1133.3" rx="3.8" ry="1.5" fill="#00dd50"/>
<ellipse cx="373.7" cy="1077.4" rx="3.8" ry="1.5" fill="#e40000"/>
<ellipse cx="410.3" cy="1089.5" rx="3.8" ry="1.5" fill="#e40000"/>
<ellipse cx="412.1" cy="1089.0" rx="3.8" ry="1.5" fill="#e40000"/>
<ellipse cx="393.2" cy="1135.0" rx="3.8" ry="1.5" fill="#e40000"/>
<ellipse cx="406.7" cy="1129.5" rx="3.8" ry="1.5" fill="#e40000"/>
<ellipse cx="445.4" cy="1126.6" rx="3.8" ry="1.5" fill="#e8a400"/>
<ellipse cx="449.9" cy="1129.5" rx="3.8" ry="1.5" fill="#e8a400"/>
<ellipse cx="343.0" cy="1087.2" rx="3.8" ry="1.5" fill="#e8a400"/>
<ellipse cx="362.3" cy="1106.7" rx="3.8" ry="1.5" fill="#e40000"/>
<ellipse cx="377.1" cy="1078.7" rx="3.8" ry="1.5" fill="#e40000"/>
<ellipse cx="386.5" cy="1081.6" rx="3.8" ry="1.5" fill="#e40000"/>
<ellipse cx="386.5" cy="1081.6" rx="3.8" ry="1.5" fill="#e40000"/>
<ellipse cx="411.5" cy="1101.2" rx="3.8" ry="1.5" fill="#e40000"/>
<ellipse cx="411.1" cy="1089.0" rx="3.8" ry="1.5" fill="#e40000"/>
<ellipse cx="399.8" cy="1085.0" rx="3.8" ry="1.5" fill="#e40000"/>
<ellipse cx="362.3" cy="1106.7" rx="3.8" ry="1.5" fill="#e40000"/>
<ellipse cx="393.7" cy="1084.0" rx="3.8" ry="1.5" fill="#e40000"/>
<ellipse cx="394.8" cy="1083.1" rx="3.8" ry="1.5" fill="#e40000"/>
<ellipse cx="362.3" cy="1106.7" rx="3.8" ry="1.5" fill="#e40000"/>
<ellipse cx="362.3" cy="1106.7" rx="3.8" ry="1.5" fill="#e40000"/>
<ellipse cx="351.4" cy="1091.2" rx="3.8" ry="1.5" fill="#e8a400"/>
<ellipse cx="518.4" cy="1121.6" rx="3.8" ry="1.5" fill="#e40000"/>
<circle cx="374.2" cy="1025.2" r="6.0" fill="url(#gR)"/>
<circle cx="394.4" cy="1013.4" r="6.0" fill="url(#gR)"/>
<circle cx="394.4" cy="997.2" r="6.0" fill="url(#gR)"/>
<circle cx="412.9" cy="1038.5" r="6.0" fill="url(#gR)"/>
<circle cx="410.3" cy="1024.3" r="6.0" fill="url(#gR)"/>
<circle cx="519.5" cy="1044.8" r="6.0" fill="url(#gR)"/>
<circle cx="407.2" cy="1067.4" r="6.0" fill="url(#gR)"/>
<circle cx="445.8" cy="1030.7" r="6.0" fill="url(#gY)"/>
<circle cx="320.8" cy="1051.5" r="6.0" fill="url(#gG)"/>
<circle cx="450.6" cy="1031.4" r="6.0" fill="url(#gY)"/>
<circle cx="393.7" cy="1071.7" r="6.0" fill="url(#gR)"/>
<circle cx="340.3" cy="1050.8" r="6.0" fill="url(#gG)"/>
<circle cx="298.7" cy="1108.9" r="6.0" fill="url(#gR)"/>
<circle cx="256.7" cy="1088.8" r="6.0" fill="url(#gR)"/>
<circle cx="261.5" cy="1086.4" r="6.0" fill="url(#gR)"/>
<circle cx="284.5" cy="1043.7" r="6.0" fill="url(#gR)"/>
<circle cx="309.4" cy="1100.6" r="6.0" fill="url(#gR)"/>
<circle cx="332.5" cy="1069.1" r="6.0" fill="url(#gB)"/>
<circle cx="276.2" cy="1108.9" r="6.0" fill="url(#gR)"/>
<circle cx="586.6" cy="1030.8" r="6.0" fill="url(#gR)"/>
<circle cx="579.5" cy="1054.7" r="6.0" fill="url(#gR)"/>
<circle cx="268.4" cy="1105.4" r="6.0" fill="url(#gR)"/>
<circle cx="220.9" cy="1037.8" r="6.0" fill="url(#gR)"/>
<circle cx="271.9" cy="1042.5" r="6.0" fill="url(#gR)"/>
<circle cx="380.6" cy="1108.4" r="6.0" fill="url(#gB)"/>
<circle cx="180.2" cy="1079.8" r="6.0" fill="url(#gY)"/>
<circle cx="316.5" cy="1113.7" r="6.0" fill="url(#gR)"/>
<circle cx="415.0" cy="1104.6" r="6.0" fill="url(#gR)"/>
<circle cx="311.0" cy="1108.9" r="6.0" fill="url(#gR)"/>
<circle cx="497.2" cy="1094.9" r="6.0" fill="url(#gR)"/>
<circle cx="418.1" cy="1156.8" r="6.0" fill="url(#gR)"/>
<circle cx="351.7" cy="1136.0" r="6.0" fill="url(#gR)"/>
<circle cx="421.8" cy="1139.0" r="6.0" fill="url(#gR)"/>
<circle cx="431.5" cy="1168.4" r="6.0" fill="url(#gR)"/>
<polygon points="94.7,1059.7 377.5,962.1 697.5,1043.5 431.0,1173.2" fill="rgb(119,152,212)" fill-opacity="0.3"/>
<text transform="matrix(0.9759,0.2181,-0.2181,0.9759,482.92,980.44)" font-size="24.4" font-weight="bold" fill="#7f9ed6" >Structure I hydrate</text>
<ellipse cx="580.9" cy="1196.7" rx="3.8" ry="1.5" fill="#e00000"/>
<line x1="580.9" y1="1196.7" x2="583.3" y2="1111.6" stroke="#e8141c" stroke-width="1.8" stroke-dasharray="7,5" stroke-dashoffset="0.0"/>
<line x1="669.9" y1="1068.7" x2="583.3" y2="1111.6" stroke="#e8141c" stroke-width="1.8" stroke-dasharray="7,5" stroke-dashoffset="0.0"/>
<line x1="560.9" y1="1105.1" x2="583.3" y2="1111.6" stroke="#e8141c" stroke-width="1.8" stroke-dasharray="7,5" stroke-dashoffset="287.6"/>
<ellipse cx="496.3" cy="1243.5" rx="3.8" ry="1.5" fill="#e00000"/>
<line x1="496.3" y1="1243.5" x2="497.6" y2="1162.6" stroke="#e8141c" stroke-width="1.8" stroke-dasharray="7,5" stroke-dashoffset="0.0"/>
<line x1="669.8" y1="1076.4" x2="497.6" y2="1162.6" stroke="#e8141c" stroke-width="1.8" stroke-dasharray="7,5" stroke-dashoffset="0.0"/>
<line x1="463.5" y1="1151.5" x2="497.6" y2="1162.6" stroke="#e8141c" stroke-width="1.8" stroke-dasharray="7,5" stroke-dashoffset="282.4"/>
<line x1="181.6" y1="1162.0" x2="180.3" y2="1086.6" stroke="#d89a30" stroke-width="1" stroke-opacity="0.55"/>
<line x1="223.4" y1="1142.5" x2="222.5" y2="1103.2" stroke="#cd414b" stroke-width="1" stroke-opacity="0.55"/>
<line x1="273.8" y1="1144.8" x2="273.3" y2="1119.3" stroke="#cd414b" stroke-width="1" stroke-opacity="0.55"/>
<line x1="286.6" y1="1139.7" x2="286.2" y2="1119.7" stroke="#cd414b" stroke-width="1" stroke-opacity="0.55"/>
<line x1="257.1" y1="1141.0" x2="256.9" y2="1110.6" stroke="#cd414b" stroke-width="1" stroke-opacity="0.55"/>
<line x1="261.9" y1="1143.4" x2="261.7" y2="1112.5" stroke="#cd414b" stroke-width="1" stroke-opacity="0.55"/>
<line x1="269.5" y1="1148.9" x2="268.6" y2="1114.5" stroke="#cd414b" stroke-width="1" stroke-opacity="0.55"/>
<line x1="277.0" y1="1147.8" x2="276.4" y2="1118.6" stroke="#cd414b" stroke-width="1" stroke-opacity="0.55"/>
<line x1="299.0" y1="1141.3" x2="298.9" y2="1127.8" stroke="#cd414b" stroke-width="1" stroke-opacity="0.55"/>
<line x1="309.9" y1="1146.4" x2="309.7" y2="1127.3" stroke="#cd414b" stroke-width="1" stroke-opacity="0.55"/>
<line x1="311.7" y1="1172.0" x2="311.2" y2="1129.9" stroke="#cd414b" stroke-width="1" stroke-opacity="0.55"/>
<line x1="318.1" y1="1169.3" x2="317.1" y2="1134.5" stroke="#cd414b" stroke-width="1" stroke-opacity="0.55"/>
<line x1="257.7" y1="1155.0" x2="257.2" y2="1119.1" stroke="#cd414b" stroke-width="1" stroke-opacity="0.55"/>
<line x1="266.0" y1="1155.5" x2="265.5" y2="1128.4" stroke="#cd414b" stroke-width="1" stroke-opacity="0.55"/>
<line x1="241.0" y1="1148.3" x2="240.6" y2="1137.0" stroke="#cd414b" stroke-width="1" stroke-opacity="0.55"/>
<line x1="333.4" y1="1143.9" x2="333.3" y2="1137.7" stroke="#3030e0" stroke-width="1" stroke-opacity="0.55"/>
<line x1="414.3" y1="1171.1" x2="414.3" y2="1165.6" stroke="#cd414b" stroke-width="1" stroke-opacity="0.55"/>
<line x1="380.7" y1="1159.7" x2="380.7" y2="1153.3" stroke="#3030e0" stroke-width="1" stroke-opacity="0.55"/>
<line x1="352.1" y1="1197.5" x2="351.8" y2="1146.2" stroke="#cd414b" stroke-width="1" stroke-opacity="0.55"/>
<line x1="421.3" y1="1212.0" x2="421.6" y2="1166.4" stroke="#cd414b" stroke-width="1" stroke-opacity="0.55"/>
<line x1="193.1" y1="1184.6" x2="192.4" y2="1160.2" stroke="#30c060" stroke-width="1" stroke-opacity="0.55"/>
<line x1="210.7" y1="1191.2" x2="210.6" y2="1170.6" stroke="#30c060" stroke-width="1" stroke-opacity="0.55"/>
<line x1="204.9" y1="1200.6" x2="204.5" y2="1172.7" stroke="#3030e0" stroke-width="1" stroke-opacity="0.55"/>
<line x1="265.5" y1="1213.3" x2="265.5" y2="1193.5" stroke="#3030e0" stroke-width="1" stroke-opacity="0.55"/>
<line x1="320.8" y1="1184.9" x2="320.0" y2="1147.2" stroke="#d89a30" stroke-width="1" stroke-opacity="0.55"/>
<line x1="326.5" y1="1187.0" x2="326.5" y2="1175.3" stroke="#d89a30" stroke-width="1" stroke-opacity="0.55"/>
<line x1="418.0" y1="1186.9" x2="418.1" y2="1168.1" stroke="#cd414b" stroke-width="1" stroke-opacity="0.55"/>
<line x1="431.3" y1="1220.1" x2="431.5" y2="1170.6" stroke="#cd414b" stroke-width="1" stroke-opacity="0.55"/>
<line x1="441.7" y1="1214.7" x2="442.3" y2="1176.0" stroke="#cd414b" stroke-width="1" stroke-opacity="0.55"/>
<line x1="259.1" y1="1134.8" x2="258.6" y2="1108.6" stroke="#cd414b" stroke-width="1" stroke-opacity="0.55"/>
<line x1="256.9" y1="1021.4" x2="255.1" y2="925.4" stroke="#cd414b" stroke-width="1" stroke-opacity="0.55"/>
<line x1="274.2" y1="1144.4" x2="274.2" y2="1120.5" stroke="#cd414b" stroke-width="1" stroke-opacity="0.55"/>
<line x1="274.2" y1="1030.6" x2="274.2" y2="1000.6" stroke="#cd414b" stroke-width="1" stroke-opacity="0.55"/>
<line x1="293.0" y1="1144.9" x2="292.7" y2="1120.9" stroke="#cd414b" stroke-width="1" stroke-opacity="0.55"/>
<line x1="291.6" y1="1031.0" x2="291.2" y2="1001.0" stroke="#cd414b" stroke-width="1" stroke-opacity="0.55"/>
<line x1="283.5" y1="1140.4" x2="283.2" y2="1124.6" stroke="#cd414b" stroke-width="1" stroke-opacity="0.55"/>
<line x1="281.8" y1="1030.0" x2="281.6" y2="1014.2" stroke="#cd414b" stroke-width="1" stroke-opacity="0.55"/>
<line x1="342.5" y1="985.4" x2="342.3" y2="943.5" stroke="#d89a30" stroke-width="1" stroke-opacity="0.55"/>
<line x1="361.9" y1="998.6" x2="361.6" y2="921.4" stroke="#cd414b" stroke-width="1" stroke-opacity="0.55"/>
<line x1="377.4" y1="977.7" x2="377.5" y2="917.1" stroke="#cd414b" stroke-width="1" stroke-opacity="0.55"/>
<line x1="386.0" y1="975.1" x2="385.7" y2="911.2" stroke="#cd414b" stroke-width="1" stroke-opacity="0.55"/>
<line x1="386.6" y1="973.2" x2="386.6" y2="881.5" stroke="#cd414b" stroke-width="1" stroke-opacity="0.55"/>
<line x1="412.5" y1="996.4" x2="413.0" y2="944.0" stroke="#cd414b" stroke-width="1" stroke-opacity="0.55"/>
<line x1="411.9" y1="986.4" x2="412.0" y2="965.9" stroke="#cd414b" stroke-width="1" stroke-opacity="0.55"/>
<line x1="399.7" y1="981.2" x2="399.7" y2="971.8" stroke="#cd414b" stroke-width="1" stroke-opacity="0.55"/>
<line x1="361.7" y1="1000.0" x2="361.6" y2="990.3" stroke="#cd414b" stroke-width="1" stroke-opacity="0.55"/>
<line x1="362.0" y1="1003.3" x2="361.0" y2="693.1" stroke="#cd414b" stroke-width="1" stroke-opacity="0.55"/>
<line x1="361.9" y1="993.2" x2="361.5" y2="859.1" stroke="#cd414b" stroke-width="1" stroke-opacity="0.55"/>
<line x1="351.0" y1="986.0" x2="350.5" y2="861.6" stroke="#d89a30" stroke-width="1" stroke-opacity="0.55"/>
<line x1="525.8" y1="1134.0" x2="526.0" y2="1122.8" stroke="#cd414b" stroke-width="1" stroke-opacity="0.55"/>
<line x1="528.0" y1="1021.8" x2="528.4" y2="999.4" stroke="#cd414b" stroke-width="1" stroke-opacity="0.55"/>
<line x1="584.0" y1="1141.4" x2="585.1" y2="1095.3" stroke="#cd414b" stroke-width="1" stroke-opacity="0.55"/>
<line x1="577.0" y1="1144.7" x2="578.3" y2="1099.7" stroke="#cd414b" stroke-width="1" stroke-opacity="0.55"/>
<line x1="495.8" y1="1173.8" x2="496.4" y2="1137.6" stroke="#cd414b" stroke-width="1" stroke-opacity="0.55"/>
<ellipse cx="181.6" cy="1162.0" rx="3.8" ry="1.5" fill="#e8a400"/>
<ellipse cx="223.4" cy="1142.5" rx="3.8" ry="1.5" fill="#e40000"/>
<ellipse cx="273.8" cy="1144.8" rx="3.8" ry="1.5" fill="#e40000"/>
<ellipse cx="286.6" cy="1139.7" rx="3.8" ry="1.5" fill="#e40000"/>
<ellipse cx="257.1" cy="1141.0" rx="3.8" ry="1.5" fill="#e40000"/>
<ellipse cx="261.9" cy="1143.4" rx="3.8" ry="1.5" fill="#e40000"/>
<ellipse cx="269.5" cy="1148.9" rx="3.8" ry="1.5" fill="#e40000"/>
<ellipse cx="277.0" cy="1147.8" rx="3.8" ry="1.5" fill="#e40000"/>
<ellipse cx="299.0" cy="1141.3" rx="3.8" ry="1.5" fill="#e40000"/>
<ellipse cx="309.9" cy="1146.4" rx="3.8" ry="1.5" fill="#e40000"/>
<ellipse cx="311.7" cy="1172.0" rx="3.8" ry="1.5" fill="#e40000"/>
<ellipse cx="318.1" cy="1169.3" rx="3.8" ry="1.5" fill="#e40000"/>
<ellipse cx="257.7" cy="1155.0" rx="3.8" ry="1.5" fill="#e40000"/>
<ellipse cx="266.0" cy="1155.5" rx="3.8" ry="1.5" fill="#e40000"/>
<ellipse cx="241.0" cy="1148.3" rx="3.8" ry="1.5" fill="#e40000"/>
<ellipse cx="333.4" cy="1143.9" rx="3.8" ry="1.5" fill="#0000e0"/>
<ellipse cx="414.3" cy="1171.1" rx="3.8" ry="1.5" fill="#e40000"/>
<ellipse cx="380.7" cy="1159.7" rx="3.8" ry="1.5" fill="#0000e0"/>
<ellipse cx="352.1" cy="1197.5" rx="3.8" ry="1.5" fill="#e40000"/>
<ellipse cx="421.3" cy="1212.0" rx="3.8" ry="1.5" fill="#e40000"/>
<ellipse cx="193.1" cy="1184.6" rx="3.8" ry="1.5" fill="#00dd50"/>
<ellipse cx="210.7" cy="1191.2" rx="3.8" ry="1.5" fill="#00dd50"/>
<ellipse cx="204.9" cy="1200.6" rx="3.8" ry="1.5" fill="#0000e0"/>
<ellipse cx="265.5" cy="1213.3" rx="3.8" ry="1.5" fill="#0000e0"/>
<ellipse cx="320.8" cy="1184.9" rx="3.8" ry="1.5" fill="#e8a400"/>
<ellipse cx="326.5" cy="1187.0" rx="3.8" ry="1.5" fill="#e8a400"/>
<ellipse cx="418.0" cy="1186.9" rx="3.8" ry="1.5" fill="#e40000"/>
<ellipse cx="431.3" cy="1220.1" rx="3.8" ry="1.5" fill="#e40000"/>
<ellipse cx="441.7" cy="1214.7" rx="3.8" ry="1.5" fill="#e40000"/>
<ellipse cx="259.1" cy="1134.8" rx="3.8" ry="1.5" fill="#e40000"/>
<ellipse cx="274.2" cy="1144.4" rx="3.8" ry="1.5" fill="#e40000"/>
<ellipse cx="293.0" cy="1144.9" rx="3.8" ry="1.5" fill="#e40000"/>
<ellipse cx="283.5" cy="1140.4" rx="3.8" ry="1.5" fill="#e40000"/>
<ellipse cx="525.8" cy="1134.0" rx="3.8" ry="1.5" fill="#e40000"/>
<ellipse cx="584.0" cy="1141.4" rx="3.8" ry="1.5" fill="#e40000"/>
<ellipse cx="577.0" cy="1144.7" rx="3.8" ry="1.5" fill="#e40000"/>
<ellipse cx="495.8" cy="1173.8" rx="3.8" ry="1.5" fill="#e40000"/>
<circle cx="377.5" cy="917.1" r="6.0" fill="url(#gR)"/>
<circle cx="399.7" cy="971.8" r="6.0" fill="url(#gR)"/>
<circle cx="385.7" cy="911.2" r="6.0" fill="url(#gR)"/>
<circle cx="412.0" cy="965.9" r="6.0" fill="url(#gR)"/>
<circle cx="386.6" cy="881.5" r="6.0" fill="url(#gR)"/>
<circle cx="342.3" cy="943.5" r="6.0" fill="url(#gY)"/>
<circle cx="350.5" cy="861.6" r="6.0" fill="url(#gY)"/>
<circle cx="413.0" cy="944.0" r="6.0" fill="url(#gR)"/>
<circle cx="361.6" cy="990.3" r="6.0" fill="url(#gR)"/>
<circle cx="361.6" cy="921.4" r="6.0" fill="url(#gR)"/>
<circle cx="361.5" cy="859.1" r="6.0" fill="url(#gR)"/>
<circle cx="528.4" cy="999.4" r="6.0" fill="url(#gR)"/>
<circle cx="361.0" cy="693.1" r="6.0" fill="url(#gR)"/>
<circle cx="240.6" cy="1137.0" r="6.0" fill="url(#gR)"/>
<clipPath id="bc1"><polygon points="568.6,1029.9 604.6,1029.9 604.6,1011.9 568.6,1011.9"/></clipPath><circle cx="586.6" cy="1030.8" r="6.0" fill="url(#gR)" clip-path="url(#bc1)"/>
<circle cx="281.6" cy="1014.2" r="6.0" fill="url(#gR)"/>
<circle cx="255.1" cy="925.4" r="6.0" fill="url(#gR)"/>
<circle cx="265.5" cy="1128.4" r="6.0" fill="url(#gR)"/>
<circle cx="257.2" cy="1119.1" r="6.0" fill="url(#gR)"/>
<circle cx="274.2" cy="1000.6" r="6.0" fill="url(#gR)"/>
<circle cx="291.2" cy="1001.0" r="6.0" fill="url(#gR)"/>
<circle cx="192.4" cy="1160.2" r="6.0" fill="url(#gG)"/>
<circle cx="326.5" cy="1175.3" r="6.0" fill="url(#gY)"/>
<circle cx="320.0" cy="1147.2" r="6.0" fill="url(#gY)"/>
<circle cx="210.6" cy="1170.6" r="6.0" fill="url(#gG)"/>
<circle cx="204.5" cy="1172.7" r="6.0" fill="url(#gB)"/>
<circle cx="265.5" cy="1193.5" r="6.0" fill="url(#gB)"/>
<circle cx="442.3" cy="1176.0" r="6.0" fill="url(#gR)"/>
<polygon points="487.3,1170.3 499.4,1174.2 499.7,1159.0 487.5,1155.1" fill="#dc0000" stroke="#dc0000" stroke-width="0.4" stroke-linejoin="round"/><polygon points="499.4,1174.2 507.7,1170.1 507.9,1154.9 499.7,1159.0" fill="#a00000" stroke="#a00000" stroke-width="0.4" stroke-linejoin="round"/><polygon points="487.5,1155.1 499.7,1159.0 507.9,1154.9 495.7,1150.9" fill="#f00a0a" stroke="#f00a0a" stroke-width="0.4" stroke-linejoin="round"/>
<polygon points="572.8,1119.4 585.1,1123.0 585.5,1107.8 573.2,1104.2" fill="#dc0000" stroke="#dc0000" stroke-width="0.4" stroke-linejoin="round"/><polygon points="585.1,1123.0 593.3,1118.9 593.8,1103.8 585.5,1107.8" fill="#a00000" stroke="#a00000" stroke-width="0.4" stroke-linejoin="round"/><polygon points="573.2,1104.2 585.5,1107.8 593.8,1103.8 581.5,1100.2" fill="#f00a0a" stroke="#f00a0a" stroke-width="0.4" stroke-linejoin="round"/>
<ellipse cx="225.9" cy="1135.9" rx="3.8" ry="1.5" fill="#e8a400"/>
<line x1="99.4" y1="1176.0" x2="81.2" y2="722.5" stroke="#000" stroke-width="2.2" />
<line x1="99.4" y1="1176.0" x2="430.2" y2="1306.1" stroke="#000" stroke-width="2.2" />
<line x1="430.2" y1="1306.1" x2="692.6" y2="1157.1" stroke="#000" stroke-width="2.2" />
<line x1="99.4" y1="1176.0" x2="92.6" y2="1178.8" stroke="#000" stroke-width="2.2" />
<line x1="96.4" y1="1101.2" x2="89.5" y2="1103.7" stroke="#000" stroke-width="2.2" />
<line x1="93.3" y1="1024.8" x2="86.4" y2="1027.1" stroke="#000" stroke-width="2.2" />
<line x1="90.2" y1="946.8" x2="83.2" y2="948.8" stroke="#000" stroke-width="2.2" />
<line x1="87.0" y1="867.1" x2="79.9" y2="868.8" stroke="#000" stroke-width="2.2" />
<line x1="83.8" y1="785.6" x2="76.5" y2="787.1" stroke="#000" stroke-width="2.2" />
<line x1="97.9" y1="1138.8" x2="93.7" y2="1140.4" stroke="#000" stroke-width="1.9800000000000002" />
<line x1="94.9" y1="1063.2" x2="90.7" y2="1064.7" stroke="#000" stroke-width="1.9800000000000002" />
<line x1="91.8" y1="986.0" x2="87.5" y2="987.3" stroke="#000" stroke-width="1.9800000000000002" />
<line x1="88.6" y1="907.1" x2="84.3" y2="908.3" stroke="#000" stroke-width="1.9800000000000002" />
<line x1="85.4" y1="826.6" x2="81.0" y2="827.5" stroke="#000" stroke-width="1.9800000000000002" />
<line x1="82.1" y1="744.2" x2="77.7" y2="745.0" stroke="#000" stroke-width="1.9800000000000002" />
<line x1="99.4" y1="1176.0" x2="92.6" y2="1178.8" stroke="#000" stroke-width="2.2" />
<line x1="152.5" y1="1196.9" x2="145.7" y2="1199.8" stroke="#000" stroke-width="2.2" />
<line x1="208.5" y1="1218.9" x2="201.7" y2="1222.0" stroke="#000" stroke-width="2.2" />
<line x1="267.5" y1="1242.1" x2="260.8" y2="1245.4" stroke="#000" stroke-width="2.2" />
<line x1="329.8" y1="1266.6" x2="323.1" y2="1270.1" stroke="#000" stroke-width="2.2" />
<line x1="395.8" y1="1292.6" x2="389.1" y2="1296.2" stroke="#000" stroke-width="2.2" />
<line x1="125.6" y1="1186.3" x2="121.5" y2="1188.0" stroke="#000" stroke-width="1.9800000000000002" />
<line x1="180.1" y1="1207.8" x2="176.0" y2="1209.6" stroke="#000" stroke-width="1.9800000000000002" />
<line x1="237.6" y1="1230.4" x2="233.5" y2="1232.3" stroke="#000" stroke-width="1.9800000000000002" />
<line x1="298.2" y1="1254.2" x2="294.2" y2="1256.2" stroke="#000" stroke-width="1.9800000000000002" />
<line x1="362.3" y1="1279.4" x2="358.3" y2="1281.6" stroke="#000" stroke-width="1.9800000000000002" />
<line x1="430.2" y1="1306.1" x2="437.2" y2="1308.8" stroke="#000" stroke-width="2.2" />
<line x1="485.1" y1="1274.9" x2="492.1" y2="1277.4" stroke="#000" stroke-width="2.2" />
<line x1="536.5" y1="1245.7" x2="543.4" y2="1248.1" stroke="#000" stroke-width="2.2" />
<line x1="584.7" y1="1218.4" x2="591.4" y2="1220.6" stroke="#000" stroke-width="2.2" />
<line x1="629.8" y1="1192.7" x2="636.5" y2="1194.8" stroke="#000" stroke-width="2.2" />
<line x1="672.3" y1="1168.6" x2="678.9" y2="1170.6" stroke="#000" stroke-width="2.2" />
<line x1="458.1" y1="1290.2" x2="462.3" y2="1291.8" stroke="#000" stroke-width="1.9800000000000002" />
<line x1="511.3" y1="1260.0" x2="515.4" y2="1261.5" stroke="#000" stroke-width="1.9800000000000002" />
<line x1="561.0" y1="1231.8" x2="565.1" y2="1233.2" stroke="#000" stroke-width="1.9800000000000002" />
<line x1="607.6" y1="1205.3" x2="611.6" y2="1206.7" stroke="#000" stroke-width="1.9800000000000002" />
<line x1="651.4" y1="1180.5" x2="655.4" y2="1181.7" stroke="#000" stroke-width="1.9800000000000002" />
<text transform="matrix(1.1138,-0.4515,0.0603,1.4562,78.44,1194.72)" font-size="20" fill="#000" >0</text>
<text transform="matrix(1.1273,-0.4133,0.0615,1.4871,62.57,1124.02)" font-size="20" fill="#000" >10</text>
<text transform="matrix(1.1411,-0.3734,0.0629,1.5189,59.10,1046.64)" font-size="20" fill="#000" >20</text>
<text transform="matrix(1.1553,-0.3316,0.0642,1.5519,55.56,967.57)" font-size="20" fill="#000" >30</text>
<text transform="matrix(1.1699,-0.2879,0.0656,1.5859,51.94,886.75)" font-size="20" fill="#000" >40</text>
<text transform="matrix(1.1848,-0.2421,0.0671,1.6210,48.24,804.14)" font-size="20" fill="#000" >50</text>
<text transform="matrix(1.1882,-0.4817,1.0260,0.4104,82.55,1188.53)" font-size="20" fill="#000" >0</text>
<text transform="matrix(1.1865,-0.5074,1.0803,0.4321,135.75,1210.25)" font-size="20" fill="#000" >1</text>
<text transform="matrix(1.1828,-0.5352,1.1390,0.4556,192.67,1232.87)" font-size="20" fill="#000" >2</text>
<text transform="matrix(1.1769,-0.5654,1.2026,0.4811,252.25,1256.75)" font-size="20" fill="#000" >3</text>
<text transform="matrix(1.1684,-0.5981,1.2717,0.5087,315.23,1282.11)" font-size="20" fill="#000" >4</text>
<text transform="matrix(1.1569,-0.6338,1.3470,0.5388,381.66,1308.96)" font-size="20" fill="#000" >5</text>
<text transform="matrix(1.4080,0.5550,-1.1250,0.6530,433.39,1317.12)" font-size="20" fill="#000" >0</text>
<text transform="matrix(1.3910,0.5180,-1.0496,0.6092,488.78,1285.23)" font-size="20" fill="#000" >2</text>
<text transform="matrix(1.3732,0.4847,-0.9814,0.5697,540.85,1255.38)" font-size="20" fill="#000" >4</text>
<text transform="matrix(1.3547,0.4544,-0.9197,0.5338,589.23,1227.40)" font-size="20" fill="#000" >6</text>
<text transform="matrix(1.3359,0.4269,-0.8637,0.5013,634.87,1201.25)" font-size="20" fill="#000" >8</text>
<text transform="matrix(1.3272,0.4050,-0.8096,0.4754,679.85,1177.32)" font-size="20" fill="#000" >10</text>
<text transform="matrix(0.0786,1.6455,-1.4774,0.4360,18.21,901.35)" fill="#000" ><tspan x="0.00" y="0.00" font-size="20.00" font-weight="bold">q</tspan><tspan x="12.22" y="-8.60" font-size="12.60" font-weight="bold">W</tspan><tspan x="12.22" y="3.80" font-size="13.00" font-weight="bold">CH</tspan><tspan x="30.99" y="7.00" font-size="8.80" font-weight="bold">4</tspan><tspan x="35.48" y="0.00" font-size="20.00" font-weight="bold">(wt%)</tspan></text>
<text transform="matrix(1.1880,0.4869,-1.2104,0.5723,154.05,1238.90)" fill="#000" ><tspan x="0.00" y="0.00" font-size="20.00" font-weight="bold" font-style="italic">R</tspan><tspan x="14.44" y="4.00" font-size="12.00" font-weight="bold" font-style="italic">w</tspan><tspan x="23.78" y="0.00" font-size="20.00" font-weight="bold"> (g g</tspan><tspan x="65.98" y="-8.00" font-size="12.00" font-weight="bold">-1</tspan><tspan x="76.65" y="0.00" font-size="20.00" font-weight="bold">)</tspan></text>
<text transform="matrix(0.9288,-0.5647,1.4074,0.4804,568.66,1294.07)" fill="#000" ><tspan x="0.00" y="0.00" font-size="20.00" font-weight="bold">Pressure (MPa)</tspan></text>
<line x1="158.1" y1="1853.9" x2="144.1" y2="1413.0" stroke="#c6c6c6" stroke-width="1.1" />
<line x1="212.1" y1="1832.0" x2="201.7" y2="1403.1" stroke="#c6c6c6" stroke-width="1.1" />
<line x1="263.1" y1="1811.3" x2="256.0" y2="1393.7" stroke="#c6c6c6" stroke-width="1.1" />
<line x1="311.4" y1="1791.8" x2="307.2" y2="1384.9" stroke="#c6c6c6" stroke-width="1.1" />
<line x1="357.1" y1="1773.2" x2="355.6" y2="1376.6" stroke="#c6c6c6" stroke-width="1.1" />
<line x1="97.9" y1="1802.3" x2="379.1" y2="1699.2" stroke="#b2b2b2" stroke-width="0.9" />
<line x1="94.8" y1="1725.9" x2="379.0" y2="1632.9" stroke="#b2b2b2" stroke-width="0.9" />
<line x1="91.7" y1="1647.9" x2="378.9" y2="1565.5" stroke="#b2b2b2" stroke-width="0.9" />
<line x1="88.5" y1="1568.2" x2="378.9" y2="1496.7" stroke="#b2b2b2" stroke-width="0.9" />
<line x1="85.3" y1="1486.7" x2="378.8" y2="1426.7" stroke="#b2b2b2" stroke-width="0.9" />
<line x1="430.7" y1="1779.7" x2="433.2" y2="1379.7" stroke="#c6c6c6" stroke-width="1.1" />
<line x1="484.6" y1="1795.7" x2="490.2" y2="1387.1" stroke="#c6c6c6" stroke-width="1.1" />
<line x1="541.0" y1="1812.5" x2="550.0" y2="1394.9" stroke="#c6c6c6" stroke-width="1.1" />
<line x1="600.1" y1="1830.1" x2="612.8" y2="1403.0" stroke="#c6c6c6" stroke-width="1.1" />
<line x1="662.0" y1="1848.6" x2="678.9" y2="1411.6" stroke="#c6c6c6" stroke-width="1.1" />
<line x1="379.1" y1="1699.2" x2="697.3" y2="1785.1" stroke="#b2b2b2" stroke-width="0.9" />
<line x1="379.0" y1="1632.9" x2="700.5" y2="1710.6" stroke="#b2b2b2" stroke-width="0.9" />
<line x1="378.9" y1="1565.5" x2="703.8" y2="1634.5" stroke="#b2b2b2" stroke-width="0.9" />
<line x1="378.9" y1="1496.7" x2="707.1" y2="1556.9" stroke="#b2b2b2" stroke-width="0.9" />
<line x1="378.8" y1="1426.7" x2="710.6" y2="1477.5" stroke="#b2b2b2" stroke-width="0.9" />
<line x1="154.0" y1="1898.0" x2="430.7" y2="1779.7" stroke="#bcbcbc" stroke-width="0.9" />
<line x1="210.0" y1="1920.0" x2="484.6" y2="1795.7" stroke="#bcbcbc" stroke-width="0.9" />
<line x1="269.0" y1="1943.2" x2="541.0" y2="1812.5" stroke="#bcbcbc" stroke-width="0.9" />
<line x1="331.3" y1="1967.7" x2="600.1" y2="1830.1" stroke="#bcbcbc" stroke-width="0.9" />
<line x1="397.3" y1="1993.7" x2="662.0" y2="1848.6" stroke="#bcbcbc" stroke-width="0.9" />
<line x1="158.1" y1="1853.9" x2="486.6" y2="1976.0" stroke="#bcbcbc" stroke-width="0.9" />
<line x1="212.1" y1="1832.0" x2="538.0" y2="1946.8" stroke="#bcbcbc" stroke-width="0.9" />
<line x1="263.1" y1="1811.3" x2="586.2" y2="1919.5" stroke="#bcbcbc" stroke-width="0.9" />
<line x1="311.4" y1="1791.8" x2="631.3" y2="1893.8" stroke="#bcbcbc" stroke-width="0.9" />
<line x1="357.1" y1="1773.2" x2="673.8" y2="1869.7" stroke="#bcbcbc" stroke-width="0.9" />
<line x1="82.7" y1="1423.6" x2="378.8" y2="1372.6" stroke="#555" stroke-width="1" />
<line x1="378.8" y1="1372.6" x2="713.2" y2="1416.1" stroke="#555" stroke-width="1" />
<line x1="379.1" y1="1764.3" x2="378.8" y2="1372.6" stroke="#888" stroke-width="1" />
<line x1="694.1" y1="1858.2" x2="713.2" y2="1416.1" stroke="#555" stroke-width="1" />
<line x1="100.9" y1="1877.1" x2="379.1" y2="1764.3" stroke="#555" stroke-width="1" />
<line x1="379.1" y1="1764.3" x2="694.1" y2="1858.2" stroke="#555" stroke-width="1" />
<line x1="249.9" y1="1734.9" x2="259.3" y2="1737.8" stroke="#e8141c" stroke-width="1.8" stroke-dasharray="7,5" stroke-dashoffset="57.2"/>
<line x1="258.6" y1="1751.5" x2="258.2" y2="1732.0" stroke="#cd414b" stroke-width="1" stroke-opacity="0.55"/>
<line x1="273.4" y1="1731.7" x2="273.3" y2="1725.7" stroke="#cd414b" stroke-width="1" stroke-opacity="0.55"/>
<line x1="282.8" y1="1731.2" x2="282.8" y2="1725.9" stroke="#cd414b" stroke-width="1" stroke-opacity="0.55"/>
<line x1="344.2" y1="1740.7" x2="344.1" y2="1728.1" stroke="#d89a30" stroke-width="1" stroke-opacity="0.55"/>
<line x1="378.7" y1="1716.8" x2="378.6" y2="1689.1" stroke="#cd414b" stroke-width="1" stroke-opacity="0.55"/>
<line x1="387.6" y1="1698.2" x2="387.6" y2="1685.3" stroke="#cd414b" stroke-width="1" stroke-opacity="0.55"/>
<line x1="400.6" y1="1690.6" x2="400.6" y2="1681.8" stroke="#cd414b" stroke-width="1" stroke-opacity="0.55"/>
<line x1="362.9" y1="1701.6" x2="362.8" y2="1696.2" stroke="#cd414b" stroke-width="1" stroke-opacity="0.55"/>
<line x1="351.8" y1="1725.2" x2="351.7" y2="1700.3" stroke="#d89a30" stroke-width="1" stroke-opacity="0.55"/>
<circle cx="344.1" cy="1728.1" r="6.0" fill="url(#gY)"/>
<polygon points="100.9,1877.1 102.6,1869.2 104.3,1861.8 106.1,1855.0 107.9,1848.7 109.7,1842.9 111.6,1837.4 113.5,1832.3 115.4,1827.6 117.3,1823.2 119.2,1819.0 121.2,1815.1 123.1,1811.4 125.1,1808.0 127.1,1804.8 129.1,1801.7 131.1,1798.9 133.2,1796.2 135.2,1793.6 137.3,1791.2 139.3,1788.9 141.4,1786.8 143.5,1784.7 145.6,1782.8 147.7,1781.0 149.8,1779.3 151.9,1777.6 154.0,1776.1 156.2,1774.6 158.3,1773.2 160.5,1771.9 162.7,1770.7 164.8,1769.5 167.0,1768.4 169.2,1767.3 171.4,1766.3 173.6,1765.4 175.8,1764.5 178.0,1763.6 180.3,1762.9 461.4,1661.2 459.2,1662.0 457.0,1662.8 454.8,1663.7 452.6,1664.6 450.4,1665.5 448.2,1666.5 446.1,1667.6 443.9,1668.7 441.7,1669.9 439.6,1671.1 437.4,1672.4 435.3,1673.8 433.1,1675.2 431.0,1676.7 428.9,1678.3 426.7,1680.0 424.6,1681.8 422.5,1683.6 420.4,1685.6 418.2,1687.7 416.1,1689.9 414.0,1692.2 411.9,1694.6 409.8,1697.2 407.8,1700.0 405.7,1702.9 403.6,1705.9 401.5,1709.2 399.5,1712.7 397.4,1716.4 395.3,1720.4 393.3,1724.6 391.2,1729.1 389.2,1734.0 387.2,1739.2 385.1,1744.7 383.1,1750.8 381.1,1757.3 379.1,1764.3" fill="rgb(119,152,212)" fill-opacity="0.3"/>
<line x1="368.2" y1="1695.7" x2="530.8" y2="1739.6" stroke="#e8141c" stroke-width="1.8" stroke-dasharray="7,5" stroke-dashoffset="85.4"/>
<line x1="259.3" y1="1737.8" x2="337.4" y2="1761.4" stroke="#e8141c" stroke-width="1.8" stroke-dasharray="7,5" stroke-dashoffset="67.0"/>
<line x1="273.4" y1="1756.1" x2="273.2" y2="1743.2" stroke="#cd414b" stroke-width="1" stroke-opacity="0.55"/>
<line x1="286.4" y1="1756.2" x2="286.2" y2="1744.0" stroke="#cd414b" stroke-width="1" stroke-opacity="0.55"/>
<line x1="321.6" y1="1758.9" x2="321.5" y2="1748.7" stroke="#30c060" stroke-width="1" stroke-opacity="0.55"/>
<line x1="341.2" y1="1758.1" x2="341.1" y2="1738.1" stroke="#30c060" stroke-width="1" stroke-opacity="0.55"/>
<line x1="333.6" y1="1760.3" x2="333.5" y2="1752.5" stroke="#3030e0" stroke-width="1" stroke-opacity="0.55"/>
<line x1="374.5" y1="1766.9" x2="374.4" y2="1751.4" stroke="#cd414b" stroke-width="1" stroke-opacity="0.55"/>
<line x1="411.3" y1="1773.8" x2="411.4" y2="1723.8" stroke="#cd414b" stroke-width="1" stroke-opacity="0.55"/>
<line x1="414.1" y1="1772.9" x2="414.2" y2="1737.5" stroke="#cd414b" stroke-width="1" stroke-opacity="0.55"/>
<line x1="394.1" y1="1769.3" x2="394.1" y2="1751.8" stroke="#cd414b" stroke-width="1" stroke-opacity="0.55"/>
<line x1="407.8" y1="1771.9" x2="407.8" y2="1747.7" stroke="#cd414b" stroke-width="1" stroke-opacity="0.55"/>
<line x1="415.1" y1="1775.5" x2="415.1" y2="1771.3" stroke="#cd414b" stroke-width="1" stroke-opacity="0.55"/>
<line x1="446.5" y1="1771.9" x2="446.9" y2="1691.7" stroke="#d89a30" stroke-width="1" stroke-opacity="0.55"/>
<line x1="451.1" y1="1766.7" x2="451.5" y2="1689.4" stroke="#d89a30" stroke-width="1" stroke-opacity="0.55"/>
<line x1="273.8" y1="1755.9" x2="273.4" y2="1731.7" stroke="#cd414b" stroke-width="1" stroke-opacity="0.55"/>
<line x1="292.7" y1="1754.5" x2="292.3" y2="1721.5" stroke="#cd414b" stroke-width="1" stroke-opacity="0.55"/>
<line x1="283.2" y1="1752.3" x2="282.8" y2="1731.2" stroke="#cd414b" stroke-width="1" stroke-opacity="0.55"/>
<line x1="344.4" y1="1760.9" x2="344.2" y2="1740.7" stroke="#d89a30" stroke-width="1" stroke-opacity="0.55"/>
<line x1="363.0" y1="1766.1" x2="362.9" y2="1697.2" stroke="#cd414b" stroke-width="1" stroke-opacity="0.55"/>
<line x1="378.9" y1="1768.4" x2="378.7" y2="1716.8" stroke="#cd414b" stroke-width="1" stroke-opacity="0.55"/>
<line x1="387.7" y1="1769.0" x2="387.6" y2="1698.2" stroke="#cd414b" stroke-width="1" stroke-opacity="0.55"/>
<line x1="387.5" y1="1765.6" x2="387.1" y2="1689.3" stroke="#cd414b" stroke-width="1" stroke-opacity="0.55"/>
<line x1="413.4" y1="1772.2" x2="413.6" y2="1680.4" stroke="#cd414b" stroke-width="1" stroke-opacity="0.55"/>
<line x1="413.1" y1="1774.6" x2="413.3" y2="1678.6" stroke="#cd414b" stroke-width="1" stroke-opacity="0.55"/>
<line x1="400.7" y1="1770.0" x2="400.6" y2="1690.6" stroke="#cd414b" stroke-width="1" stroke-opacity="0.55"/>
<line x1="363.0" y1="1766.1" x2="362.9" y2="1701.6" stroke="#cd414b" stroke-width="1" stroke-opacity="0.55"/>
<line x1="394.7" y1="1769.9" x2="394.6" y2="1712.4" stroke="#cd414b" stroke-width="1" stroke-opacity="0.55"/>
<line x1="395.6" y1="1770.4" x2="395.6" y2="1724.6" stroke="#cd414b" stroke-width="1" stroke-opacity="0.55"/>
<line x1="363.0" y1="1757.7" x2="362.8" y2="1689.2" stroke="#cd414b" stroke-width="1" stroke-opacity="0.55"/>
<line x1="363.1" y1="1768.2" x2="363.0" y2="1696.7" stroke="#cd414b" stroke-width="1" stroke-opacity="0.55"/>
<line x1="352.1" y1="1762.6" x2="351.8" y2="1725.2" stroke="#d89a30" stroke-width="1" stroke-opacity="0.55"/>
<line x1="528.7" y1="1731.8" x2="530.2" y2="1661.8" stroke="#cd414b" stroke-width="1" stroke-opacity="0.55"/>
<line x1="520.4" y1="1740.4" x2="520.9" y2="1705.7" stroke="#cd414b" stroke-width="1" stroke-opacity="0.55"/>
<line x1="587.7" y1="1707.4" x2="588.8" y2="1661.7" stroke="#cd414b" stroke-width="1" stroke-opacity="0.55"/>
<line x1="580.5" y1="1717.3" x2="580.9" y2="1698.7" stroke="#cd414b" stroke-width="1" stroke-opacity="0.55"/>
<circle cx="374.4" cy="1751.4" r="6.0" fill="url(#gR)"/>
<circle cx="395.6" cy="1724.6" r="6.0" fill="url(#gR)"/>
<circle cx="394.6" cy="1712.4" r="6.0" fill="url(#gR)"/>
<circle cx="414.2" cy="1737.5" r="6.0" fill="url(#gR)"/>
<circle cx="411.4" cy="1723.8" r="6.0" fill="url(#gR)"/>
<circle cx="520.9" cy="1705.7" r="6.0" fill="url(#gR)"/>
<circle cx="407.8" cy="1747.7" r="6.0" fill="url(#gR)"/>
<circle cx="321.5" cy="1748.7" r="6.0" fill="url(#gG)"/>
<circle cx="446.9" cy="1691.7" r="6.0" fill="url(#gY)"/>
<circle cx="341.1" cy="1738.1" r="6.0" fill="url(#gG)"/>
<circle cx="394.1" cy="1751.8" r="6.0" fill="url(#gR)"/>
<circle cx="451.5" cy="1689.4" r="6.0" fill="url(#gY)"/>
<circle cx="286.2" cy="1744.0" r="6.0" fill="url(#gR)"/>
<circle cx="333.5" cy="1752.5" r="6.0" fill="url(#gB)"/>
<circle cx="273.2" cy="1743.2" r="6.0" fill="url(#gR)"/>
<circle cx="580.9" cy="1698.7" r="6.0" fill="url(#gR)"/>
<circle cx="415.1" cy="1771.3" r="6.0" fill="url(#gR)"/>
<circle cx="498.3" cy="1748.9" r="6.0" fill="url(#gR)"/>
<polygon points="180.3,1762.9 186.0,1761.0 191.7,1759.5 197.5,1758.1 203.3,1757.0 209.2,1756.1 215.1,1755.4 221.1,1754.8 227.1,1754.3 233.1,1754.0 239.2,1753.8 245.3,1753.8 251.5,1753.8 257.7,1754.0 263.9,1754.2 270.2,1754.5 276.5,1754.9 282.8,1755.4 289.2,1756.0 295.7,1756.6 302.1,1757.3 308.7,1758.0 315.2,1758.8 321.8,1759.7 328.5,1760.6 335.1,1761.5 341.9,1762.5 348.6,1763.6 355.4,1764.7 362.3,1765.8 369.2,1767.0 376.1,1768.2 383.1,1769.5 390.1,1770.8 397.2,1772.1 404.3,1773.4 411.4,1774.8 418.6,1776.3 425.9,1777.7 433.2,1779.2 702.5,1663.9 695.7,1663.0 689.0,1662.1 682.3,1661.2 675.6,1660.3 668.9,1659.4 662.3,1658.6 655.7,1657.8 649.1,1657.1 642.6,1656.3 636.1,1655.6 629.7,1655.0 623.3,1654.3 616.9,1653.7 610.5,1653.2 604.2,1652.7 597.9,1652.2 591.6,1651.7 585.4,1651.3 579.2,1651.0 573.0,1650.7 566.9,1650.4 560.8,1650.2 554.7,1650.1 548.6,1650.0 542.6,1650.0 536.6,1650.1 530.7,1650.3 524.7,1650.5 518.8,1650.8 512.9,1651.2 507.1,1651.8 501.3,1652.4 495.5,1653.2 489.7,1654.1 484.0,1655.1 478.3,1656.3 472.6,1657.7 467.0,1659.3 461.4,1661.2" fill="rgb(119,152,212)" fill-opacity="0.3"/>
<text transform="matrix(0.9982,0.0593,-0.0593,0.9982,482.43,1641.29)" font-size="24.3" font-weight="bold" fill="#7f9ed6" >Structure I hydrate</text>
<ellipse cx="582.4" cy="1897.8" rx="3.8" ry="1.5" fill="#e00000"/>
<line x1="582.4" y1="1897.8" x2="586.4" y2="1754.6" stroke="#e8141c" stroke-width="1.8" stroke-dasharray="7,5" stroke-dashoffset="0.0"/>
<line x1="673.6" y1="1714.8" x2="586.4" y2="1754.6" stroke="#e8141c" stroke-width="1.8" stroke-dasharray="7,5" stroke-dashoffset="0.0"/>
<line x1="530.8" y1="1739.6" x2="586.4" y2="1754.6" stroke="#e8141c" stroke-width="1.8" stroke-dasharray="7,5" stroke-dashoffset="253.8"/>
<line x1="285.7" y1="1673.5" x2="368.2" y2="1695.7" stroke="#e8141c" stroke-width="1.8" stroke-dasharray="7,5" stroke-dashoffset="0.0"/>
<ellipse cx="497.8" cy="1944.6" rx="3.8" ry="1.5" fill="#e00000"/>
<line x1="497.8" y1="1944.6" x2="499.9" y2="1810.5" stroke="#e8141c" stroke-width="1.8" stroke-dasharray="7,5" stroke-dashoffset="0.0"/>
<line x1="673.2" y1="1729.7" x2="499.9" y2="1810.5" stroke="#e8141c" stroke-width="1.8" stroke-dasharray="7,5" stroke-dashoffset="0.0"/>
<line x1="337.4" y1="1761.4" x2="499.9" y2="1810.5" stroke="#e8141c" stroke-width="1.8" stroke-dasharray="7,5" stroke-dashoffset="148.7"/>
<line x1="195.1" y1="1718.4" x2="249.9" y2="1734.9" stroke="#e8141c" stroke-width="1.8" stroke-dasharray="7,5" stroke-dashoffset="0.0"/>
<line x1="182.6" y1="1863.0" x2="181.1" y2="1810.5" stroke="#d89a30" stroke-width="1" stroke-opacity="0.55"/>
<line x1="224.6" y1="1844.2" x2="223.2" y2="1780.8" stroke="#cd414b" stroke-width="1" stroke-opacity="0.55"/>
<line x1="274.9" y1="1846.7" x2="273.4" y2="1756.1" stroke="#cd414b" stroke-width="1" stroke-opacity="0.55"/>
<line x1="287.6" y1="1841.6" x2="286.4" y2="1756.2" stroke="#cd414b" stroke-width="1" stroke-opacity="0.55"/>
<line x1="322.3" y1="1830.5" x2="321.6" y2="1758.9" stroke="#30c060" stroke-width="1" stroke-opacity="0.55"/>
<line x1="258.2" y1="1842.8" x2="257.4" y2="1797.7" stroke="#cd414b" stroke-width="1" stroke-opacity="0.55"/>
<line x1="263.0" y1="1845.2" x2="262.1" y2="1792.2" stroke="#cd414b" stroke-width="1" stroke-opacity="0.55"/>
<line x1="270.5" y1="1850.7" x2="269.8" y2="1805.2" stroke="#cd414b" stroke-width="1" stroke-opacity="0.55"/>
<line x1="278.0" y1="1849.6" x2="277.3" y2="1807.9" stroke="#cd414b" stroke-width="1" stroke-opacity="0.55"/>
<line x1="300.0" y1="1843.2" x2="299.5" y2="1807.2" stroke="#cd414b" stroke-width="1" stroke-opacity="0.55"/>
<line x1="310.9" y1="1848.4" x2="310.3" y2="1793.6" stroke="#cd414b" stroke-width="1" stroke-opacity="0.55"/>
<line x1="312.7" y1="1873.8" x2="311.7" y2="1788.3" stroke="#cd414b" stroke-width="1" stroke-opacity="0.55"/>
<line x1="319.1" y1="1871.1" x2="318.3" y2="1795.6" stroke="#cd414b" stroke-width="1" stroke-opacity="0.55"/>
<line x1="258.9" y1="1856.7" x2="258.2" y2="1818.7" stroke="#cd414b" stroke-width="1" stroke-opacity="0.55"/>
<line x1="267.1" y1="1857.2" x2="266.6" y2="1827.1" stroke="#cd414b" stroke-width="1" stroke-opacity="0.55"/>
<line x1="242.2" y1="1850.0" x2="242.0" y2="1839.7" stroke="#cd414b" stroke-width="1" stroke-opacity="0.55"/>
<line x1="341.8" y1="1834.3" x2="341.2" y2="1758.1" stroke="#30c060" stroke-width="1" stroke-opacity="0.55"/>
<line x1="334.3" y1="1846.0" x2="333.6" y2="1760.3" stroke="#3030e0" stroke-width="1" stroke-opacity="0.55"/>
<line x1="374.5" y1="1780.0" x2="374.5" y2="1766.9" stroke="#cd414b" stroke-width="1" stroke-opacity="0.55"/>
<line x1="411.3" y1="1790.5" x2="411.3" y2="1773.8" stroke="#cd414b" stroke-width="1" stroke-opacity="0.55"/>
<line x1="414.1" y1="1790.6" x2="414.1" y2="1772.9" stroke="#cd414b" stroke-width="1" stroke-opacity="0.55"/>
<line x1="394.2" y1="1836.0" x2="394.1" y2="1769.3" stroke="#cd414b" stroke-width="1" stroke-opacity="0.55"/>
<line x1="407.7" y1="1830.5" x2="407.8" y2="1771.9" stroke="#cd414b" stroke-width="1" stroke-opacity="0.55"/>
<line x1="415.0" y1="1873.3" x2="415.1" y2="1775.5" stroke="#cd414b" stroke-width="1" stroke-opacity="0.55"/>
<line x1="381.5" y1="1861.8" x2="381.3" y2="1787.4" stroke="#3030e0" stroke-width="1" stroke-opacity="0.55"/>
<line x1="353.0" y1="1899.2" x2="352.4" y2="1806.1" stroke="#cd414b" stroke-width="1" stroke-opacity="0.55"/>
<line x1="422.0" y1="1913.8" x2="423.7" y2="1800.6" stroke="#cd414b" stroke-width="1" stroke-opacity="0.55"/>
<line x1="446.2" y1="1829.2" x2="446.5" y2="1771.9" stroke="#d89a30" stroke-width="1" stroke-opacity="0.55"/>
<line x1="450.7" y1="1832.1" x2="451.1" y2="1766.7" stroke="#d89a30" stroke-width="1" stroke-opacity="0.55"/>
<line x1="194.6" y1="1885.8" x2="193.9" y2="1859.8" stroke="#30c060" stroke-width="1" stroke-opacity="0.55"/>
<line x1="212.2" y1="1892.5" x2="211.6" y2="1867.8" stroke="#30c060" stroke-width="1" stroke-opacity="0.55"/>
<line x1="206.4" y1="1901.7" x2="205.5" y2="1867.3" stroke="#3030e0" stroke-width="1" stroke-opacity="0.55"/>
<line x1="266.8" y1="1914.5" x2="266.3" y2="1886.1" stroke="#3030e0" stroke-width="1" stroke-opacity="0.55"/>
<line x1="321.8" y1="1885.9" x2="321.3" y2="1832.9" stroke="#d89a30" stroke-width="1" stroke-opacity="0.55"/>
<line x1="327.5" y1="1888.0" x2="327.3" y2="1871.4" stroke="#d89a30" stroke-width="1" stroke-opacity="0.55"/>
<line x1="418.7" y1="1889.0" x2="418.8" y2="1840.8" stroke="#cd414b" stroke-width="1" stroke-opacity="0.55"/>
<line x1="431.9" y1="1921.9" x2="432.2" y2="1837.1" stroke="#cd414b" stroke-width="1" stroke-opacity="0.55"/>
<line x1="442.2" y1="1916.6" x2="442.6" y2="1852.7" stroke="#cd414b" stroke-width="1" stroke-opacity="0.55"/>
<line x1="260.1" y1="1836.2" x2="258.6" y2="1751.5" stroke="#cd414b" stroke-width="1" stroke-opacity="0.55"/>
<line x1="258.2" y1="1732.0" x2="257.3" y2="1679.9" stroke="#cd414b" stroke-width="1" stroke-opacity="0.55"/>
<line x1="275.3" y1="1846.3" x2="273.8" y2="1755.9" stroke="#cd414b" stroke-width="1" stroke-opacity="0.55"/>
<line x1="273.3" y1="1725.7" x2="272.9" y2="1701.6" stroke="#cd414b" stroke-width="1" stroke-opacity="0.55"/>
<line x1="294.0" y1="1846.8" x2="292.7" y2="1754.5" stroke="#cd414b" stroke-width="1" stroke-opacity="0.55"/>
<line x1="292.3" y1="1721.5" x2="291.8" y2="1688.5" stroke="#cd414b" stroke-width="1" stroke-opacity="0.55"/>
<line x1="284.5" y1="1842.3" x2="283.2" y2="1752.3" stroke="#cd414b" stroke-width="1" stroke-opacity="0.55"/>
<line x1="282.8" y1="1725.9" x2="282.6" y2="1715.3" stroke="#cd414b" stroke-width="1" stroke-opacity="0.55"/>
<line x1="344.6" y1="1788.7" x2="344.4" y2="1760.9" stroke="#d89a30" stroke-width="1" stroke-opacity="0.55"/>
<line x1="363.1" y1="1809.1" x2="363.0" y2="1766.1" stroke="#cd414b" stroke-width="1" stroke-opacity="0.55"/>
<line x1="362.9" y1="1697.2" x2="362.8" y2="1602.6" stroke="#cd414b" stroke-width="1" stroke-opacity="0.55"/>
<line x1="378.9" y1="1780.3" x2="378.9" y2="1768.4" stroke="#cd414b" stroke-width="1" stroke-opacity="0.55"/>
<line x1="378.6" y1="1689.1" x2="378.6" y2="1685.1" stroke="#cd414b" stroke-width="1" stroke-opacity="0.55"/>
<line x1="387.7" y1="1788.3" x2="387.7" y2="1769.0" stroke="#cd414b" stroke-width="1" stroke-opacity="0.55"/>
<line x1="387.6" y1="1685.3" x2="387.6" y2="1633.8" stroke="#cd414b" stroke-width="1" stroke-opacity="0.55"/>
<line x1="387.7" y1="1799.5" x2="387.5" y2="1765.6" stroke="#cd414b" stroke-width="1" stroke-opacity="0.55"/>
<line x1="387.1" y1="1689.3" x2="386.6" y2="1596.1" stroke="#cd414b" stroke-width="1" stroke-opacity="0.55"/>
<line x1="413.4" y1="1802.8" x2="413.4" y2="1772.2" stroke="#cd414b" stroke-width="1" stroke-opacity="0.55"/>
<line x1="413.6" y1="1680.4" x2="413.7" y2="1619.2" stroke="#cd414b" stroke-width="1" stroke-opacity="0.55"/>
<line x1="413.1" y1="1790.6" x2="413.1" y2="1774.6" stroke="#cd414b" stroke-width="1" stroke-opacity="0.55"/>
<line x1="413.3" y1="1678.6" x2="413.3" y2="1662.6" stroke="#cd414b" stroke-width="1" stroke-opacity="0.55"/>
<line x1="400.7" y1="1787.7" x2="400.7" y2="1770.0" stroke="#cd414b" stroke-width="1" stroke-opacity="0.55"/>
<line x1="363.1" y1="1809.1" x2="363.0" y2="1766.1" stroke="#cd414b" stroke-width="1" stroke-opacity="0.55"/>
<line x1="362.8" y1="1696.2" x2="362.8" y2="1680.1" stroke="#cd414b" stroke-width="1" stroke-opacity="0.55"/>
<line x1="394.7" y1="1785.0" x2="394.7" y2="1769.9" stroke="#cd414b" stroke-width="1" stroke-opacity="0.55"/>
<line x1="395.6" y1="1785.7" x2="395.6" y2="1770.4" stroke="#cd414b" stroke-width="1" stroke-opacity="0.55"/>
<line x1="363.1" y1="1809.1" x2="363.0" y2="1757.7" stroke="#cd414b" stroke-width="1" stroke-opacity="0.55"/>
<line x1="362.8" y1="1689.2" x2="362.2" y2="1398.0" stroke="#cd414b" stroke-width="1" stroke-opacity="0.55"/>
<line x1="363.1" y1="1809.1" x2="363.1" y2="1768.2" stroke="#cd414b" stroke-width="1" stroke-opacity="0.55"/>
<line x1="363.0" y1="1696.7" x2="362.8" y2="1563.9" stroke="#cd414b" stroke-width="1" stroke-opacity="0.55"/>
<line x1="352.3" y1="1793.7" x2="352.1" y2="1762.6" stroke="#d89a30" stroke-width="1" stroke-opacity="0.55"/>
<line x1="351.7" y1="1700.3" x2="351.3" y2="1644.2" stroke="#d89a30" stroke-width="1" stroke-opacity="0.55"/>
<line x1="526.4" y1="1836.9" x2="528.7" y2="1731.8" stroke="#cd414b" stroke-width="1" stroke-opacity="0.55"/>
<line x1="530.2" y1="1661.8" x2="531.0" y2="1626.8" stroke="#cd414b" stroke-width="1" stroke-opacity="0.55"/>
<line x1="519.1" y1="1824.6" x2="520.4" y2="1740.4" stroke="#cd414b" stroke-width="1" stroke-opacity="0.55"/>
<line x1="584.5" y1="1844.5" x2="587.7" y2="1707.4" stroke="#cd414b" stroke-width="1" stroke-opacity="0.55"/>
<line x1="577.6" y1="1847.7" x2="580.5" y2="1717.3" stroke="#cd414b" stroke-width="1" stroke-opacity="0.55"/>
<line x1="496.8" y1="1874.8" x2="498.3" y2="1748.9" stroke="#cd414b" stroke-width="1" stroke-opacity="0.55"/>
<ellipse cx="182.6" cy="1863.0" rx="3.8" ry="1.5" fill="#e8a400"/>
<ellipse cx="224.6" cy="1844.2" rx="3.8" ry="1.5" fill="#e40000"/>
<ellipse cx="274.9" cy="1846.7" rx="3.8" ry="1.5" fill="#e40000"/>
<ellipse cx="287.6" cy="1841.6" rx="3.8" ry="1.5" fill="#e40000"/>
<ellipse cx="322.3" cy="1830.5" rx="3.8" ry="1.5" fill="#00dd50"/>
<ellipse cx="258.2" cy="1842.8" rx="3.8" ry="1.5" fill="#e40000"/>
<ellipse cx="263.0" cy="1845.2" rx="3.8" ry="1.5" fill="#e40000"/>
<ellipse cx="270.5" cy="1850.7" rx="3.8" ry="1.5" fill="#e40000"/>
<ellipse cx="278.0" cy="1849.6" rx="3.8" ry="1.5" fill="#e40000"/>
<ellipse cx="300.0" cy="1843.2" rx="3.8" ry="1.5" fill="#e40000"/>
<ellipse cx="310.9" cy="1848.4" rx="3.8" ry="1.5" fill="#e40000"/>
<ellipse cx="312.7" cy="1873.8" rx="3.8" ry="1.5" fill="#e40000"/>
<ellipse cx="319.1" cy="1871.1" rx="3.8" ry="1.5" fill="#e40000"/>
<ellipse cx="258.9" cy="1856.7" rx="3.8" ry="1.5" fill="#e40000"/>
<ellipse cx="267.1" cy="1857.2" rx="3.8" ry="1.5" fill="#e40000"/>
<ellipse cx="242.2" cy="1850.0" rx="3.8" ry="1.5" fill="#e40000"/>
<ellipse cx="341.8" cy="1834.3" rx="3.8" ry="1.5" fill="#00dd50"/>
<ellipse cx="334.3" cy="1846.0" rx="3.8" ry="1.5" fill="#0000e0"/>
<ellipse cx="374.5" cy="1780.0" rx="3.8" ry="1.5" fill="#e40000"/>
<ellipse cx="411.3" cy="1790.5" rx="3.8" ry="1.5" fill="#e40000"/>
<ellipse cx="414.1" cy="1790.6" rx="3.8" ry="1.5" fill="#e40000"/>
<ellipse cx="394.2" cy="1836.0" rx="3.8" ry="1.5" fill="#e40000"/>
<ellipse cx="407.7" cy="1830.5" rx="3.8" ry="1.5" fill="#e40000"/>
<ellipse cx="415.0" cy="1873.3" rx="3.8" ry="1.5" fill="#e40000"/>
<ellipse cx="381.5" cy="1861.8" rx="3.8" ry="1.5" fill="#0000e0"/>
<ellipse cx="353.0" cy="1899.2" rx="3.8" ry="1.5" fill="#e40000"/>
<ellipse cx="422.0" cy="1913.8" rx="3.8" ry="1.5" fill="#e40000"/>
<ellipse cx="446.2" cy="1829.2" rx="3.8" ry="1.5" fill="#e8a400"/>
<ellipse cx="450.7" cy="1832.1" rx="3.8" ry="1.5" fill="#e8a400"/>
<ellipse cx="194.6" cy="1885.8" rx="3.8" ry="1.5" fill="#00dd50"/>
<ellipse cx="212.2" cy="1892.5" rx="3.8" ry="1.5" fill="#00dd50"/>
<ellipse cx="206.4" cy="1901.7" rx="3.8" ry="1.5" fill="#0000e0"/>
<ellipse cx="266.8" cy="1914.5" rx="3.8" ry="1.5" fill="#0000e0"/>
<ellipse cx="321.8" cy="1885.9" rx="3.8" ry="1.5" fill="#e8a400"/>
<ellipse cx="327.5" cy="1888.0" rx="3.8" ry="1.5" fill="#e8a400"/>
<ellipse cx="418.7" cy="1889.0" rx="3.8" ry="1.5" fill="#e40000"/>
<ellipse cx="431.9" cy="1921.9" rx="3.8" ry="1.5" fill="#e40000"/>
<ellipse cx="442.2" cy="1916.6" rx="3.8" ry="1.5" fill="#e40000"/>
<ellipse cx="260.1" cy="1836.2" rx="3.8" ry="1.5" fill="#e40000"/>
<ellipse cx="275.3" cy="1846.3" rx="3.8" ry="1.5" fill="#e40000"/>
<ellipse cx="294.0" cy="1846.8" rx="3.8" ry="1.5" fill="#e40000"/>
<ellipse cx="284.5" cy="1842.3" rx="3.8" ry="1.5" fill="#e40000"/>
<ellipse cx="344.6" cy="1788.7" rx="3.8" ry="1.5" fill="#e8a400"/>
<ellipse cx="363.1" cy="1809.1" rx="3.8" ry="1.5" fill="#e40000"/>
<ellipse cx="378.9" cy="1780.3" rx="3.8" ry="1.5" fill="#e40000"/>
<ellipse cx="387.7" cy="1788.3" rx="3.8" ry="1.5" fill="#e40000"/>
<ellipse cx="387.7" cy="1799.5" rx="3.8" ry="1.5" fill="#e40000"/>
<ellipse cx="413.4" cy="1802.8" rx="3.8" ry="1.5" fill="#e40000"/>
<ellipse cx="413.1" cy="1790.6" rx="3.8" ry="1.5" fill="#e40000"/>
<ellipse cx="400.7" cy="1787.7" rx="3.8" ry="1.5" fill="#e40000"/>
<ellipse cx="363.1" cy="1809.1" rx="3.8" ry="1.5" fill="#e40000"/>
<ellipse cx="394.7" cy="1785.0" rx="3.8" ry="1.5" fill="#e40000"/>
<ellipse cx="395.6" cy="1785.7" rx="3.8" ry="1.5" fill="#e40000"/>
<ellipse cx="363.1" cy="1809.1" rx="3.8" ry="1.5" fill="#e40000"/>
<ellipse cx="363.1" cy="1809.1" rx="3.8" ry="1.5" fill="#e40000"/>
<ellipse cx="352.3" cy="1793.7" rx="3.8" ry="1.5" fill="#e8a400"/>
<ellipse cx="526.4" cy="1836.9" rx="3.8" ry="1.5" fill="#e40000"/>
<ellipse cx="519.1" cy="1824.6" rx="3.8" ry="1.5" fill="#e40000"/>
<ellipse cx="584.5" cy="1844.5" rx="3.8" ry="1.5" fill="#e40000"/>
<ellipse cx="577.6" cy="1847.7" rx="3.8" ry="1.5" fill="#e40000"/>
<ellipse cx="496.8" cy="1874.8" rx="3.8" ry="1.5" fill="#e40000"/>
<circle cx="378.6" cy="1685.1" r="6.0" fill="url(#gR)"/>
<circle cx="400.6" cy="1681.8" r="6.0" fill="url(#gR)"/>
<circle cx="413.3" cy="1662.6" r="6.0" fill="url(#gR)"/>
<circle cx="387.6" cy="1633.8" r="6.0" fill="url(#gR)"/>
<circle cx="351.3" cy="1644.2" r="6.0" fill="url(#gY)"/>
<circle cx="386.6" cy="1596.1" r="6.0" fill="url(#gR)"/>
<circle cx="413.7" cy="1619.2" r="6.0" fill="url(#gR)"/>
<circle cx="362.8" cy="1680.1" r="6.0" fill="url(#gR)"/>
<circle cx="362.8" cy="1602.6" r="6.0" fill="url(#gR)"/>
<circle cx="362.8" cy="1563.9" r="6.0" fill="url(#gR)"/>
<circle cx="299.5" cy="1807.2" r="6.0" fill="url(#gR)"/>
<circle cx="257.4" cy="1797.7" r="6.0" fill="url(#gR)"/>
<circle cx="362.2" cy="1398.0" r="6.0" fill="url(#gR)"/>
<circle cx="262.1" cy="1792.2" r="6.0" fill="url(#gR)"/>
<circle cx="223.2" cy="1780.8" r="6.0" fill="url(#gR)"/>
<circle cx="242.0" cy="1839.7" r="6.0" fill="url(#gR)"/>
<circle cx="257.3" cy="1679.9" r="6.0" fill="url(#gR)"/>
<circle cx="277.3" cy="1807.9" r="6.0" fill="url(#gR)"/>
<circle cx="310.3" cy="1793.6" r="6.0" fill="url(#gR)"/>
<circle cx="269.8" cy="1805.2" r="6.0" fill="url(#gR)"/>
<circle cx="282.6" cy="1715.3" r="6.0" fill="url(#gR)"/>
<circle cx="531.0" cy="1626.8" r="6.0" fill="url(#gR)"/>
<circle cx="266.6" cy="1827.1" r="6.0" fill="url(#gR)"/>
<circle cx="258.2" cy="1818.7" r="6.0" fill="url(#gR)"/>
<circle cx="272.9" cy="1701.6" r="6.0" fill="url(#gR)"/>
<circle cx="588.8" cy="1661.7" r="6.0" fill="url(#gR)"/>
<circle cx="291.8" cy="1688.5" r="6.0" fill="url(#gR)"/>
<circle cx="181.1" cy="1810.5" r="6.0" fill="url(#gY)"/>
<circle cx="381.3" cy="1787.4" r="6.0" fill="url(#gB)"/>
<circle cx="318.3" cy="1795.6" r="6.0" fill="url(#gR)"/>
<circle cx="311.7" cy="1788.3" r="6.0" fill="url(#gR)"/>
<circle cx="193.9" cy="1859.8" r="6.0" fill="url(#gG)"/>
<circle cx="327.3" cy="1871.4" r="6.0" fill="url(#gY)"/>
<circle cx="321.3" cy="1832.9" r="6.0" fill="url(#gY)"/>
<circle cx="418.8" cy="1840.8" r="6.0" fill="url(#gR)"/>
<circle cx="211.6" cy="1867.8" r="6.0" fill="url(#gG)"/>
<circle cx="205.5" cy="1867.3" r="6.0" fill="url(#gB)"/>
<circle cx="352.4" cy="1806.1" r="6.0" fill="url(#gR)"/>
<circle cx="266.3" cy="1886.1" r="6.0" fill="url(#gB)"/>
<circle cx="442.6" cy="1852.7" r="6.0" fill="url(#gR)"/>
<circle cx="423.7" cy="1800.6" r="6.0" fill="url(#gR)"/>
<circle cx="432.2" cy="1837.1" r="6.0" fill="url(#gR)"/>
<polygon points="489.5,1818.2 501.8,1821.9 502.0,1806.7 489.8,1803.0" fill="#dc0000" stroke="#dc0000" stroke-width="0.4" stroke-linejoin="round"/><polygon points="501.8,1821.9 510.1,1818.0 510.4,1802.8 502.0,1806.7" fill="#a00000" stroke="#a00000" stroke-width="0.4" stroke-linejoin="round"/><polygon points="489.8,1803.0 502.0,1806.7 510.4,1802.8 498.1,1799.1" fill="#f00a0a" stroke="#f00a0a" stroke-width="0.4" stroke-linejoin="round"/>
<polygon points="575.8,1762.4 588.2,1765.7 588.6,1750.5 576.2,1747.2" fill="#dc0000" stroke="#dc0000" stroke-width="0.4" stroke-linejoin="round"/><polygon points="588.2,1765.7 596.5,1761.9 597.0,1746.7 588.6,1750.5" fill="#a00000" stroke="#a00000" stroke-width="0.4" stroke-linejoin="round"/><polygon points="576.2,1747.2 588.6,1750.5 597.0,1746.7 584.6,1743.4" fill="#f00a0a" stroke="#f00a0a" stroke-width="0.4" stroke-linejoin="round"/>
<ellipse cx="227.6" cy="1836.8" rx="3.8" ry="1.5" fill="#e8a400"/>
<line x1="100.9" y1="1877.1" x2="82.7" y2="1423.6" stroke="#000" stroke-width="2.2" />
<line x1="100.9" y1="1877.1" x2="431.7" y2="2007.2" stroke="#000" stroke-width="2.2" />
<line x1="431.7" y1="2007.2" x2="694.1" y2="1858.2" stroke="#000" stroke-width="2.2" />
<line x1="100.9" y1="1877.1" x2="94.1" y2="1879.9" stroke="#000" stroke-width="2.2" />
<line x1="97.9" y1="1802.3" x2="91.0" y2="1804.8" stroke="#000" stroke-width="2.2" />
<line x1="94.8" y1="1725.9" x2="87.9" y2="1728.2" stroke="#000" stroke-width="2.2" />
<line x1="91.7" y1="1647.9" x2="84.7" y2="1649.9" stroke="#000" stroke-width="2.2" />
<line x1="88.5" y1="1568.2" x2="81.4" y2="1569.9" stroke="#000" stroke-width="2.2" />
<line x1="85.3" y1="1486.7" x2="78.0" y2="1488.2" stroke="#000" stroke-width="2.2" />
<line x1="99.4" y1="1839.9" x2="95.2" y2="1841.5" stroke="#000" stroke-width="1.9800000000000002" />
<line x1="96.4" y1="1764.3" x2="92.2" y2="1765.8" stroke="#000" stroke-width="1.9800000000000002" />
<line x1="93.3" y1="1687.1" x2="89.0" y2="1688.4" stroke="#000" stroke-width="1.9800000000000002" />
<line x1="90.1" y1="1608.2" x2="85.8" y2="1609.4" stroke="#000" stroke-width="1.9800000000000002" />
<line x1="86.9" y1="1527.7" x2="82.5" y2="1528.6" stroke="#000" stroke-width="1.9800000000000002" />
<line x1="83.6" y1="1445.3" x2="79.2" y2="1446.1" stroke="#000" stroke-width="1.9800000000000002" />
<line x1="100.9" y1="1877.1" x2="94.1" y2="1879.9" stroke="#000" stroke-width="2.2" />
<line x1="154.0" y1="1898.0" x2="147.2" y2="1900.9" stroke="#000" stroke-width="2.2" />
<line x1="210.0" y1="1920.0" x2="203.2" y2="1923.1" stroke="#000" stroke-width="2.2" />
<line x1="269.0" y1="1943.2" x2="262.3" y2="1946.5" stroke="#000" stroke-width="2.2" />
<line x1="331.3" y1="1967.7" x2="324.6" y2="1971.2" stroke="#000" stroke-width="2.2" />
<line x1="397.3" y1="1993.7" x2="390.6" y2="1997.3" stroke="#000" stroke-width="2.2" />
<line x1="127.1" y1="1887.4" x2="123.0" y2="1889.1" stroke="#000" stroke-width="1.9800000000000002" />
<line x1="181.6" y1="1908.9" x2="177.5" y2="1910.7" stroke="#000" stroke-width="1.9800000000000002" />
<line x1="239.1" y1="1931.5" x2="235.0" y2="1933.4" stroke="#000" stroke-width="1.9800000000000002" />
<line x1="299.7" y1="1955.3" x2="295.7" y2="1957.3" stroke="#000" stroke-width="1.9800000000000002" />
<line x1="363.8" y1="1980.5" x2="359.8" y2="1982.7" stroke="#000" stroke-width="1.9800000000000002" />
<line x1="431.7" y1="2007.2" x2="438.7" y2="2009.9" stroke="#000" stroke-width="2.2" />
<line x1="486.6" y1="1976.0" x2="493.6" y2="1978.5" stroke="#000" stroke-width="2.2" />
<line x1="538.0" y1="1946.8" x2="544.9" y2="1949.2" stroke="#000" stroke-width="2.2" />
<line x1="586.2" y1="1919.5" x2="592.9" y2="1921.7" stroke="#000" stroke-width="2.2" />
<line x1="631.3" y1="1893.8" x2="638.0" y2="1895.9" stroke="#000" stroke-width="2.2" />
<line x1="673.8" y1="1869.7" x2="680.4" y2="1871.7" stroke="#000" stroke-width="2.2" />
<line x1="459.6" y1="1991.3" x2="463.8" y2="1992.9" stroke="#000" stroke-width="1.9800000000000002" />
<line x1="512.8" y1="1961.1" x2="516.9" y2="1962.6" stroke="#000" stroke-width="1.9800000000000002" />
<line x1="562.5" y1="1932.9" x2="566.6" y2="1934.3" stroke="#000" stroke-width="1.9800000000000002" />
<line x1="609.1" y1="1906.4" x2="613.1" y2="1907.8" stroke="#000" stroke-width="1.9800000000000002" />
<line x1="652.9" y1="1881.6" x2="656.9" y2="1882.8" stroke="#000" stroke-width="1.9800000000000002" />
<text transform="matrix(1.1138,-0.4515,0.0603,1.4562,79.94,1895.82)" font-size="20" fill="#000" >0</text>
<text transform="matrix(1.1273,-0.4133,0.0615,1.4871,76.69,1820.35)" font-size="20" fill="#000" >5</text>
<text transform="matrix(1.1411,-0.3734,0.0629,1.5190,60.60,1747.74)" font-size="20" fill="#000" >10</text>
<text transform="matrix(1.1553,-0.3316,0.0642,1.5519,57.05,1668.51)" font-size="20" fill="#000" >15</text>
<text transform="matrix(1.1699,-0.2879,0.0656,1.5859,53.44,1587.85)" font-size="20" fill="#000" >20</text>
<text transform="matrix(1.1848,-0.2421,0.0671,1.6210,49.74,1505.24)" font-size="20" fill="#000" >25</text>
<text transform="matrix(1.1882,-0.4817,1.0260,0.4104,84.05,1889.63)" font-size="20" fill="#000" >0</text>
<text transform="matrix(1.1865,-0.5074,1.0803,0.4321,137.25,1911.35)" font-size="20" fill="#000" >1</text>
<text transform="matrix(1.1828,-0.5352,1.1390,0.4556,194.17,1933.97)" font-size="20" fill="#000" >2</text>
<text transform="matrix(1.1769,-0.5654,1.2026,0.4811,253.75,1957.85)" font-size="20" fill="#000" >3</text>
<text transform="matrix(1.1684,-0.5981,1.2717,0.5087,316.73,1983.21)" font-size="20" fill="#000" >4</text>
<text transform="matrix(1.1569,-0.6338,1.3470,0.5388,383.16,2010.06)" font-size="20" fill="#000" >5</text>
<text transform="matrix(1.4080,0.5550,-1.1250,0.6530,434.89,2018.22)" font-size="20" fill="#000" >0</text>
<text transform="matrix(1.3910,0.5180,-1.0496,0.6092,490.28,1986.33)" font-size="20" fill="#000" >2</text>
<text transform="matrix(1.3732,0.4847,-0.9814,0.5697,542.35,1956.48)" font-size="20" fill="#000" >4</text>
<text transform="matrix(1.3547,0.4544,-0.9197,0.5338,590.73,1928.50)" font-size="20" fill="#000" >6</text>
<text transform="matrix(1.3359,0.4269,-0.8637,0.5013,636.37,1902.35)" font-size="20" fill="#000" >8</text>
<text transform="matrix(1.3272,0.4050,-0.8096,0.4754,681.35,1878.42)" font-size="20" fill="#000" >10</text>
<text transform="matrix(0.0802,1.6787,-1.4288,0.4217,19.74,1597.93)" fill="#000" ><tspan x="0.00" y="0.00" font-size="20.00" font-weight="bold">q</tspan><tspan x="12.22" y="-8.60" font-size="12.60" font-weight="bold">T</tspan><tspan x="12.22" y="3.80" font-size="13.00" font-weight="bold">CH</tspan><tspan x="30.99" y="7.00" font-size="8.80" font-weight="bold">4</tspan><tspan x="40.88" y="0.00" font-size="20.00" font-weight="bold">(wt%)</tspan></text>
<text transform="matrix(1.1880,0.4869,-1.2104,0.5723,155.55,1940.00)" fill="#000" ><tspan x="0.00" y="0.00" font-size="20.00" font-weight="bold" font-style="italic">R</tspan><tspan x="14.44" y="4.00" font-size="12.00" font-weight="bold" font-style="italic">w</tspan><tspan x="23.78" y="0.00" font-size="20.00" font-weight="bold"> (g g</tspan><tspan x="65.98" y="-8.00" font-size="12.00" font-weight="bold">-1</tspan><tspan x="76.65" y="0.00" font-size="20.00" font-weight="bold">)</tspan></text>
<text transform="matrix(0.9288,-0.5647,1.4074,0.4804,570.16,1995.17)" fill="#000" ><tspan x="0.00" y="0.00" font-size="20.00" font-weight="bold">Pressure (MPa)</tspan></text>
<text x="15.8" y="29.7" font-size="36" font-weight="bold">(a)</text>
<text x="15.8" y="703.7" font-size="36" font-weight="bold">(b)</text>
<text x="18.3" y="1409.8" font-size="36" font-weight="bold">(c)</text>
<rect x="90.10" y="2077.7" width="52.16" height="31.6" fill="#0000ff"/>
<rect x="141.96" y="2077.7" width="52.16" height="31.6" fill="#0080ff"/>
<rect x="193.82" y="2077.7" width="52.16" height="31.6" fill="#00ffff"/>
<rect x="245.68" y="2077.7" width="52.16" height="31.6" fill="#00ffa0"/>
<rect x="297.54" y="2077.7" width="52.16" height="31.6" fill="#00ff50"/>
<rect x="349.40" y="2077.7" width="52.16" height="31.6" fill="#00ff00"/>
<rect x="401.26" y="2077.7" width="52.16" height="31.6" fill="#80ff00"/>
<rect x="453.12" y="2077.7" width="52.16" height="31.6" fill="#ffff00"/>
<rect x="504.98" y="2077.7" width="52.16" height="31.6" fill="#ffa500"/>
<rect x="556.84" y="2077.7" width="52.16" height="31.6" fill="#ff5000"/>
<rect x="608.70" y="2077.7" width="52.16" height="31.6" fill="#ff0000"/>
<rect x="90.10" y="2077.7" width="570.46" height="31.6" fill="none" stroke="#000" stroke-width="1.2"/>
<line x1="90.10" y1="2109.3" x2="90.10" y2="2117.6" stroke="#000" stroke-width="1.2"/>
<text x="90.10" y="2147" font-size="26" text-anchor="middle">220</text>
<line x1="141.96" y1="2109.3" x2="141.96" y2="2117.6" stroke="#000" stroke-width="1.2"/>
<text x="141.96" y="2147" font-size="26" text-anchor="middle">225</text>
<line x1="193.82" y1="2109.3" x2="193.82" y2="2117.6" stroke="#000" stroke-width="1.2"/>
<text x="193.82" y="2147" font-size="26" text-anchor="middle">230</text>
<line x1="245.68" y1="2109.3" x2="245.68" y2="2117.6" stroke="#000" stroke-width="1.2"/>
<text x="245.68" y="2147" font-size="26" text-anchor="middle">235</text>
<line x1="297.54" y1="2109.3" x2="297.54" y2="2117.6" stroke="#000" stroke-width="1.2"/>
<text x="297.54" y="2147" font-size="26" text-anchor="middle">240</text>
<line x1="349.40" y1="2109.3" x2="349.40" y2="2117.6" stroke="#000" stroke-width="1.2"/>
<text x="349.40" y="2147" font-size="26" text-anchor="middle">245</text>
<line x1="401.26" y1="2109.3" x2="401.26" y2="2117.6" stroke="#000" stroke-width="1.2"/>
<text x="401.26" y="2147" font-size="26" text-anchor="middle">250</text>
<line x1="453.12" y1="2109.3" x2="453.12" y2="2117.6" stroke="#000" stroke-width="1.2"/>
<text x="453.12" y="2147" font-size="26" text-anchor="middle">255</text>
<line x1="504.98" y1="2109.3" x2="504.98" y2="2117.6" stroke="#000" stroke-width="1.2"/>
<text x="504.98" y="2147" font-size="26" text-anchor="middle">260</text>
<line x1="556.84" y1="2109.3" x2="556.84" y2="2117.6" stroke="#000" stroke-width="1.2"/>
<text x="556.84" y="2147" font-size="26" text-anchor="middle">265</text>
<line x1="608.70" y1="2109.3" x2="608.70" y2="2117.6" stroke="#000" stroke-width="1.2"/>
<text x="608.70" y="2147" font-size="26" text-anchor="middle">270</text>
<line x1="660.56" y1="2109.3" x2="660.56" y2="2117.6" stroke="#000" stroke-width="1.2"/>
<text x="660.56" y="2147" font-size="26" text-anchor="middle">275</text>
<text x="375" y="2069.2" font-size="31.3" font-weight="bold" text-anchor="middle">Temperature (K)</text>
</svg>
</body></html>
